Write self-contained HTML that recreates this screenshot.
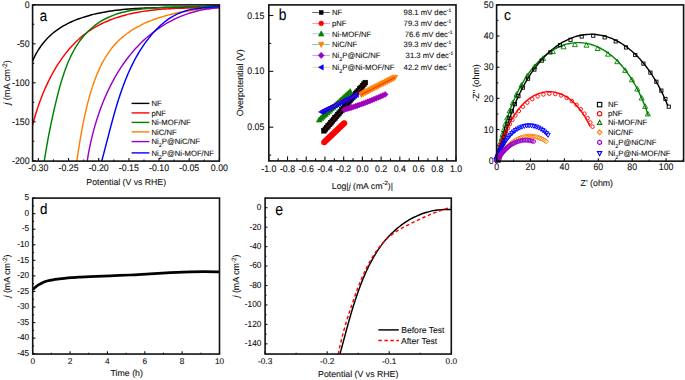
<!DOCTYPE html>
<html><head><meta charset="utf-8"><style>
html,body{margin:0;padding:0;background:#fff;}
body{width:685px;height:380px;overflow:hidden;}
svg{display:block;font-family:"Liberation Sans", sans-serif;text-rendering:geometricPrecision;}
text{fill:#111;stroke:#111;stroke-width:0.1px;paint-order:stroke;}
text.L{stroke-width:0.12px;fill:#000;stroke:#000;}
</style></head><body>
<svg width="685" height="380" viewBox="0 0 685 380">
<rect width="685" height="380" fill="#fff"/>
<defs><clipPath id="clipa"><rect x="32.6" y="4.9" width="186.8" height="156.2"/></clipPath><clipPath id="clipe"><rect x="265.1" y="198.1" width="186.2" height="155.95000000000002"/></clipPath></defs>
<g clip-path="url(#clipa)" fill="none" stroke-width="1.45">
<path d="M30.77,66.32 C30.93,65.87 31.37,64.51 31.69,63.62 C32.01,62.73 32.35,61.85 32.7,60.99 C33.05,60.12 33.42,59.26 33.8,58.41 C34.18,57.56 34.58,56.72 34.99,55.89 C35.41,55.07 35.83,54.25 36.27,53.44 C36.72,52.64 37.17,51.84 37.64,51.06 C38.11,50.27 38.59,49.5 39.09,48.74 C39.59,47.97 40.1,47.22 40.62,46.48 C41.15,45.75 41.68,45.02 42.23,44.3 C42.78,43.59 43.34,42.88 43.92,42.19 C44.49,41.5 45.08,40.82 45.68,40.16 C46.27,39.49 46.89,38.83 47.51,38.19 C48.13,37.55 48.76,36.92 49.41,36.31 C50.05,35.69 50.71,35.09 51.37,34.5 C52.04,33.91 52.71,33.33 53.4,32.77 C54.09,32.21 54.78,31.66 55.49,31.12 C56.2,30.59 56.91,30.07 57.64,29.56 C58.37,29.05 59.1,28.55 59.85,28.07 C60.59,27.59 61.34,27.12 62.1,26.66 C62.86,26.21 63.63,25.76 64.41,25.33 C65.18,24.9 65.97,24.48 66.76,24.07 C67.55,23.66 68.35,23.26 69.15,22.88 C69.95,22.49 70.76,22.11 71.58,21.75 C72.39,21.39 73.22,21.03 74.04,20.69 C74.87,20.34 75.7,20.01 76.54,19.69 C77.37,19.36 78.21,19.05 79.06,18.74 C79.9,18.44 80.75,18.14 81.6,17.85 C82.46,17.57 83.31,17.29 84.17,17.02 C85.03,16.75 85.89,16.49 86.75,16.24 C87.62,15.98 88.48,15.74 89.35,15.5 C90.22,15.26 91.09,15.03 91.96,14.81 C92.83,14.58 93.7,14.37 94.57,14.16 C95.44,13.95 96.32,13.74 97.19,13.55 C98.07,13.35 98.95,13.16 99.82,12.98 C100.7,12.8 101.58,12.62 102.46,12.45 C103.34,12.28 104.22,12.12 105.1,11.96 C105.99,11.8 106.87,11.65 107.75,11.5 C108.64,11.35 109.52,11.21 110.41,11.08 C111.3,10.94 112.18,10.81 113.07,10.69 C113.96,10.56 114.85,10.44 115.74,10.33 C116.63,10.21 117.52,10.1 118.41,10 C119.3,9.89 120.2,9.79 121.09,9.7 C121.98,9.6 122.88,9.51 123.77,9.42 C124.67,9.34 125.56,9.25 126.46,9.18 C127.36,9.1 128.25,9.02 129.15,8.95 C130.05,8.88 130.95,8.81 131.85,8.75 C132.75,8.69 133.64,8.63 134.54,8.57 C135.44,8.51 136.35,8.46 137.25,8.41 C138.15,8.36 139.05,8.31 139.95,8.27 C140.85,8.22 141.76,8.18 142.66,8.14 C143.56,8.1 144.46,8.06 145.37,8.03 C146.27,8 147.17,7.96 148.08,7.93 C148.98,7.9 149.89,7.88 150.79,7.85 C151.7,7.82 152.6,7.8 153.51,7.78 C154.41,7.75 155.32,7.73 156.22,7.71 C157.13,7.69 158.03,7.68 158.94,7.66 C159.84,7.64 160.75,7.63 161.65,7.61 C162.56,7.59 163.46,7.58 164.37,7.57 C165.27,7.55 166.18,7.54 167.09,7.53 C167.99,7.51 168.9,7.5 169.8,7.49 C170.71,7.48 171.61,7.47 172.52,7.46 C173.42,7.44 174.32,7.43 175.23,7.42 C176.13,7.41 177.04,7.39 177.94,7.38 C178.85,7.37 179.75,7.35 180.65,7.34 C181.56,7.32 182.46,7.31 183.36,7.29 C184.26,7.28 185.17,7.26 186.07,7.24 C186.97,7.22 187.87,7.2 188.77,7.18 C189.67,7.16 190.57,7.14 191.47,7.11 C192.37,7.09 193.27,7.06 194.17,7.03 C195.07,7 195.96,6.97 196.86,6.94 C197.76,6.91 198.66,6.87 199.55,6.83 C200.45,6.8 201.34,6.76 202.24,6.71 C203.13,6.67 204.03,6.63 204.92,6.58 C205.81,6.53 206.7,6.48 207.59,6.42 C208.49,6.37 209.38,6.31 210.27,6.25 C211.16,6.19 212.04,6.12 212.93,6.05 C213.82,5.99 214.71,5.91 215.59,5.84 C216.48,5.76 217.36,5.68 218.25,5.6 C219.13,5.51 220.45,5.38 220.89,5.33" stroke="#000"/>
<path d="M31.94,127.66 C32.07,127.16 32.43,125.68 32.69,124.69 C32.95,123.7 33.21,122.71 33.49,121.71 C33.76,120.71 34.04,119.71 34.32,118.71 C34.61,117.71 34.9,116.71 35.2,115.7 C35.5,114.7 35.8,113.69 36.12,112.68 C36.43,111.68 36.75,110.67 37.08,109.66 C37.41,108.65 37.74,107.64 38.09,106.63 C38.43,105.62 38.78,104.61 39.14,103.6 C39.5,102.6 39.86,101.59 40.24,100.58 C40.61,99.58 40.99,98.57 41.38,97.57 C41.77,96.56 42.16,95.56 42.56,94.56 C42.97,93.56 43.38,92.56 43.8,91.56 C44.22,90.57 44.65,89.57 45.08,88.58 C45.52,87.59 45.96,86.61 46.41,85.62 C46.86,84.64 47.32,83.66 47.79,82.68 C48.25,81.71 48.73,80.73 49.21,79.77 C49.7,78.8 50.19,77.84 50.69,76.88 C51.19,75.92 51.7,74.97 52.21,74.02 C52.73,73.08 53.25,72.13 53.79,71.2 C54.32,70.26 54.86,69.33 55.41,68.41 C55.96,67.49 56.52,66.57 57.09,65.66 C57.66,64.76 58.23,63.85 58.82,62.96 C59.4,62.07 60,61.18 60.6,60.3 C61.2,59.42 61.82,58.55 62.44,57.69 C63.06,56.83 63.69,55.97 64.32,55.13 C64.96,54.29 65.61,53.45 66.27,52.63 C66.92,51.8 67.59,50.99 68.26,50.18 C68.94,49.37 69.62,48.58 70.31,47.79 C71.01,47.01 71.71,46.23 72.42,45.47 C73.13,44.71 73.86,43.96 74.59,43.22 C75.32,42.48 76.06,41.75 76.81,41.03 C77.56,40.31 78.32,39.61 79.08,38.92 C79.85,38.23 80.63,37.55 81.42,36.88 C82.21,36.21 83.01,35.56 83.81,34.92 C84.62,34.28 85.44,33.66 86.27,33.05 C87.09,32.43 87.93,31.84 88.78,31.25 C89.63,30.67 90.48,30.1 91.35,29.54 C92.21,28.99 93.09,28.45 93.97,27.92 C94.86,27.39 95.75,26.88 96.65,26.37 C97.55,25.87 98.46,25.38 99.38,24.91 C100.3,24.43 101.22,23.97 102.15,23.52 C103.09,23.06 104.03,22.63 104.97,22.2 C105.92,21.77 106.88,21.36 107.84,20.96 C108.8,20.56 109.77,20.17 110.74,19.79 C111.72,19.41 112.7,19.04 113.68,18.69 C114.67,18.33 115.66,17.99 116.66,17.65 C117.66,17.32 118.66,17 119.67,16.69 C120.68,16.37 121.69,16.07 122.71,15.78 C123.73,15.49 124.76,15.21 125.78,14.94 C126.81,14.67 127.84,14.41 128.88,14.16 C129.91,13.91 130.95,13.67 132,13.44 C133.04,13.21 134.09,12.99 135.14,12.78 C136.19,12.57 137.24,12.37 138.3,12.17 C139.35,11.98 140.41,11.8 141.47,11.62 C142.53,11.45 143.59,11.28 144.66,11.12 C145.72,10.96 146.79,10.81 147.86,10.67 C148.93,10.53 150,10.39 151.07,10.27 C152.14,10.14 153.21,10.02 154.28,9.91 C155.35,9.8 156.43,9.69 157.5,9.59 C158.58,9.49 159.65,9.4 160.73,9.32 C161.8,9.23 162.88,9.15 163.95,9.08 C165.03,9 166.1,8.93 167.18,8.87 C168.26,8.8 169.33,8.74 170.41,8.69 C171.48,8.63 172.56,8.58 173.63,8.53 C174.71,8.48 175.78,8.44 176.85,8.4 C177.93,8.35 179,8.31 180.07,8.28 C181.14,8.24 182.21,8.21 183.28,8.17 C184.35,8.14 185.42,8.11 186.48,8.08 C187.55,8.05 188.61,8.02 189.67,7.99 C190.74,7.96 191.8,7.94 192.86,7.91 C193.91,7.88 194.97,7.85 196.03,7.82 C197.08,7.8 198.13,7.77 199.18,7.74 C200.23,7.71 201.28,7.67 202.32,7.64 C203.37,7.61 204.41,7.57 205.45,7.53 C206.48,7.5 207.52,7.46 208.55,7.41 C209.58,7.37 210.61,7.32 211.64,7.27 C212.66,7.22 213.68,7.17 214.7,7.11 C215.72,7.06 216.73,6.99 217.74,6.93 C218.75,6.86 220.26,6.75 220.76,6.71" stroke="#ff0000"/>
<path d="M43.98,163.01 C44.07,162.41 44.35,160.61 44.54,159.41 C44.72,158.22 44.91,157.03 45.1,155.85 C45.29,154.67 45.49,153.49 45.68,152.32 C45.88,151.15 46.07,149.98 46.27,148.82 C46.47,147.66 46.67,146.5 46.87,145.35 C47.08,144.19 47.28,143.04 47.49,141.9 C47.7,140.75 47.91,139.61 48.12,138.46 C48.33,137.32 48.55,136.18 48.77,135.05 C48.98,133.91 49.21,132.77 49.43,131.64 C49.65,130.51 49.88,129.37 50.11,128.24 C50.33,127.11 50.56,125.98 50.8,124.85 C51.03,123.72 51.27,122.58 51.51,121.45 C51.75,120.32 51.99,119.19 52.24,118.06 C52.49,116.92 52.73,115.79 52.99,114.65 C53.24,113.52 53.5,112.38 53.75,111.24 C54.01,110.1 54.28,108.96 54.54,107.81 C54.81,106.66 55.08,105.52 55.35,104.36 C55.62,103.21 55.9,102.06 56.18,100.9 C56.46,99.74 56.74,98.58 57.03,97.41 C57.32,96.25 57.62,95.08 57.92,93.91 C58.22,92.74 58.52,91.57 58.83,90.4 C59.14,89.23 59.46,88.06 59.78,86.89 C60.11,85.72 60.44,84.55 60.78,83.39 C61.12,82.22 61.47,81.06 61.82,79.89 C62.18,78.73 62.54,77.57 62.92,76.42 C63.29,75.26 63.67,74.11 64.07,72.97 C64.46,71.82 64.86,70.68 65.28,69.55 C65.69,68.41 66.12,67.28 66.56,66.16 C66.99,65.04 67.44,63.93 67.9,62.82 C68.37,61.72 68.84,60.62 69.33,59.53 C69.81,58.44 70.31,57.37 70.83,56.3 C71.34,55.23 71.87,54.17 72.41,53.13 C72.96,52.08 73.52,51.04 74.09,50.02 C74.66,49 75.25,47.99 75.86,46.99 C76.46,46 77.09,45.02 77.73,44.05 C78.36,43.08 79.02,42.13 79.69,41.19 C80.37,40.25 81.06,39.33 81.77,38.43 C82.48,37.52 83.21,36.63 83.96,35.76 C84.71,34.89 85.48,34.04 86.27,33.21 C87.06,32.37 87.86,31.56 88.69,30.76 C89.52,29.97 90.36,29.19 91.23,28.44 C92.09,27.68 92.97,26.95 93.87,26.23 C94.77,25.52 95.69,24.83 96.62,24.16 C97.56,23.49 98.51,22.84 99.47,22.21 C100.44,21.59 101.42,20.98 102.42,20.4 C103.42,19.83 104.43,19.27 105.46,18.74 C106.48,18.21 107.52,17.7 108.58,17.22 C109.63,16.74 110.7,16.28 111.78,15.85 C112.86,15.41 113.96,15.01 115.06,14.62 C116.16,14.23 117.28,13.87 118.41,13.53 C119.53,13.19 120.67,12.87 121.81,12.56 C122.96,12.26 124.11,11.98 125.27,11.71 C126.43,11.45 127.6,11.2 128.77,10.97 C129.94,10.74 131.12,10.53 132.3,10.33 C133.49,10.12 134.68,9.94 135.87,9.77 C137.06,9.59 138.26,9.44 139.45,9.29 C140.65,9.14 141.85,9 143.05,8.88 C144.25,8.75 145.45,8.63 146.65,8.53 C147.85,8.42 149.05,8.32 150.25,8.22 C151.45,8.13 152.65,8.05 153.84,7.97 C155.04,7.88 156.23,7.81 157.42,7.74 C158.62,7.67 159.81,7.61 161,7.55 C162.19,7.5 163.37,7.44 164.56,7.39 C165.75,7.34 166.93,7.3 168.12,7.26 C169.3,7.22 170.48,7.18 171.67,7.14 C172.85,7.11 174.03,7.08 175.21,7.05 C176.39,7.02 177.57,6.99 178.75,6.96 C179.92,6.94 181.1,6.91 182.28,6.89 C183.45,6.87 184.63,6.84 185.8,6.82 C186.98,6.8 188.15,6.78 189.32,6.76 C190.5,6.73 191.67,6.71 192.84,6.69 C194.01,6.66 195.19,6.64 196.36,6.61 C197.53,6.58 198.7,6.55 199.87,6.52 C201.04,6.49 202.21,6.46 203.38,6.42 C204.55,6.38 205.72,6.35 206.89,6.3 C208.06,6.26 209.23,6.21 210.39,6.16 C211.56,6.11 212.73,6.05 213.9,5.99 C215.07,5.93 216.24,5.87 217.41,5.79 C218.58,5.72 220.33,5.6 220.91,5.56" stroke="#008000"/>
<path d="M76.58,162.9 C76.65,162.4 76.87,160.9 77.02,159.9 C77.16,158.9 77.31,157.9 77.46,156.9 C77.61,155.9 77.76,154.91 77.91,153.91 C78.06,152.91 78.21,151.92 78.36,150.92 C78.51,149.93 78.67,148.93 78.82,147.94 C78.98,146.94 79.14,145.95 79.29,144.96 C79.45,143.96 79.61,142.97 79.78,141.98 C79.94,140.99 80.1,140 80.27,139 C80.44,138.01 80.61,137.02 80.78,136.03 C80.95,135.04 81.12,134.05 81.3,133.06 C81.48,132.06 81.66,131.07 81.84,130.08 C82.02,129.09 82.21,128.1 82.4,127.11 C82.59,126.12 82.78,125.12 82.98,124.13 C83.17,123.14 83.37,122.15 83.58,121.15 C83.78,120.16 83.99,119.17 84.2,118.17 C84.41,117.18 84.63,116.18 84.85,115.19 C85.07,114.19 85.29,113.19 85.52,112.2 C85.75,111.2 85.98,110.2 86.22,109.2 C86.46,108.2 86.7,107.2 86.95,106.2 C87.19,105.2 87.45,104.2 87.7,103.19 C87.96,102.19 88.23,101.18 88.49,100.18 C88.76,99.17 89.04,98.16 89.32,97.16 C89.6,96.15 89.88,95.14 90.18,94.14 C90.47,93.13 90.77,92.13 91.08,91.12 C91.38,90.12 91.7,89.11 92.02,88.11 C92.34,87.11 92.66,86.11 93,85.12 C93.33,84.12 93.68,83.13 94.03,82.14 C94.38,81.15 94.74,80.17 95.1,79.19 C95.47,78.21 95.85,77.23 96.23,76.26 C96.62,75.29 97.01,74.32 97.41,73.36 C97.82,72.4 98.23,71.45 98.65,70.5 C99.07,69.55 99.5,68.61 99.94,67.68 C100.38,66.74 100.83,65.82 101.3,64.9 C101.76,63.98 102.23,63.07 102.71,62.17 C103.2,61.27 103.69,60.38 104.2,59.5 C104.7,58.61 105.22,57.74 105.75,56.88 C106.27,56.02 106.81,55.16 107.37,54.32 C107.92,53.48 108.48,52.65 109.06,51.83 C109.63,51.02 110.22,50.21 110.82,49.42 C111.43,48.62 112.04,47.84 112.67,47.08 C113.3,46.31 113.94,45.55 114.59,44.81 C115.25,44.07 115.92,43.35 116.6,42.64 C117.28,41.93 117.98,41.23 118.68,40.55 C119.39,39.86 120.12,39.19 120.85,38.54 C121.58,37.88 122.33,37.24 123.09,36.61 C123.85,35.98 124.62,35.37 125.4,34.77 C126.18,34.17 126.98,33.58 127.78,33 C128.58,32.42 129.4,31.86 130.22,31.31 C131.05,30.76 131.89,30.22 132.73,29.7 C133.58,29.17 134.43,28.66 135.3,28.15 C136.16,27.65 137.03,27.16 137.92,26.68 C138.8,26.21 139.69,25.74 140.59,25.28 C141.49,24.83 142.4,24.39 143.31,23.95 C144.23,23.52 145.15,23.1 146.08,22.69 C147.01,22.28 147.95,21.88 148.89,21.49 C149.83,21.1 150.79,20.72 151.74,20.35 C152.7,19.98 153.66,19.62 154.63,19.27 C155.6,18.92 156.57,18.58 157.55,18.25 C158.53,17.92 159.51,17.61 160.5,17.29 C161.49,16.98 162.48,16.68 163.48,16.39 C164.47,16.1 165.47,15.82 166.48,15.54 C167.48,15.27 168.49,15 169.5,14.74 C170.51,14.49 171.52,14.24 172.53,14 C173.55,13.76 174.57,13.53 175.59,13.3 C176.61,13.08 177.63,12.86 178.65,12.65 C179.67,12.44 180.7,12.24 181.72,12.05 C182.74,11.85 183.77,11.67 184.79,11.49 C185.82,11.31 186.84,11.13 187.87,10.97 C188.89,10.8 189.92,10.64 190.94,10.49 C191.97,10.34 192.99,10.19 194.01,10.05 C195.03,9.91 196.05,9.78 197.07,9.65 C198.09,9.52 199.11,9.4 200.12,9.28 C201.13,9.16 202.15,9.05 203.15,8.95 C204.16,8.84 205.17,8.74 206.17,8.64 C207.17,8.55 208.17,8.46 209.16,8.37 C210.16,8.28 211.15,8.2 212.13,8.13 C213.12,8.05 214.1,7.98 215.08,7.91 C216.05,7.84 217.02,7.77 217.99,7.71 C218.95,7.65 220.39,7.57 220.86,7.54" stroke="#ff8000"/>
<path d="M86.92,162.94 C86.99,162.49 87.19,161.14 87.33,160.24 C87.47,159.34 87.62,158.43 87.77,157.53 C87.92,156.62 88.08,155.71 88.24,154.8 C88.4,153.89 88.56,152.98 88.73,152.07 C88.9,151.16 89.08,150.25 89.26,149.34 C89.43,148.42 89.62,147.51 89.81,146.59 C90,145.68 90.19,144.76 90.39,143.85 C90.59,142.93 90.79,142.01 91,141.1 C91.21,140.18 91.42,139.26 91.64,138.35 C91.86,137.43 92.08,136.51 92.31,135.59 C92.54,134.68 92.77,133.76 93.01,132.84 C93.24,131.93 93.49,131.01 93.74,130.09 C93.98,129.18 94.24,128.26 94.5,127.34 C94.75,126.43 95.02,125.51 95.29,124.6 C95.56,123.69 95.83,122.77 96.11,121.86 C96.39,120.95 96.67,120.04 96.96,119.13 C97.25,118.22 97.55,117.31 97.85,116.4 C98.15,115.49 98.45,114.59 98.76,113.68 C99.07,112.78 99.39,111.88 99.71,110.98 C100.03,110.07 100.36,109.17 100.69,108.28 C101.02,107.38 101.36,106.48 101.7,105.59 C102.05,104.7 102.4,103.81 102.75,102.92 C103.11,102.03 103.47,101.14 103.83,100.26 C104.2,99.37 104.57,98.49 104.94,97.61 C105.32,96.73 105.7,95.86 106.09,94.98 C106.48,94.11 106.87,93.24 107.27,92.37 C107.67,91.5 108.07,90.64 108.49,89.78 C108.9,88.92 109.31,88.06 109.73,87.2 C110.16,86.35 110.59,85.5 111.02,84.65 C111.45,83.8 111.89,82.96 112.34,82.12 C112.78,81.28 113.24,80.44 113.69,79.61 C114.15,78.78 114.61,77.95 115.08,77.13 C115.55,76.3 116.03,75.48 116.51,74.67 C116.99,73.85 117.48,73.04 117.97,72.23 C118.46,71.43 118.96,70.62 119.47,69.83 C119.98,69.03 120.49,68.24 121,67.45 C121.52,66.66 122.05,65.88 122.58,65.1 C123.11,64.32 123.64,63.55 124.19,62.78 C124.73,62.02 125.28,61.25 125.83,60.5 C126.39,59.74 126.95,58.99 127.52,58.25 C128.09,57.5 128.66,56.76 129.24,56.03 C129.82,55.29 130.41,54.57 131,53.84 C131.6,53.12 132.2,52.41 132.8,51.7 C133.41,50.99 134.02,50.28 134.64,49.59 C135.26,48.89 135.89,48.2 136.52,47.52 C137.15,46.83 137.79,46.16 138.43,45.49 C139.08,44.82 139.73,44.15 140.39,43.5 C141.05,42.84 141.72,42.19 142.39,41.55 C143.06,40.91 143.74,40.27 144.42,39.64 C145.11,39.01 145.8,38.39 146.5,37.78 C147.19,37.17 147.9,36.56 148.61,35.97 C149.32,35.37 150.04,34.78 150.76,34.2 C151.48,33.61 152.21,33.04 152.95,32.47 C153.68,31.91 154.42,31.35 155.17,30.8 C155.92,30.25 156.67,29.71 157.43,29.17 C158.19,28.64 158.96,28.12 159.73,27.6 C160.5,27.08 161.28,26.58 162.07,26.08 C162.85,25.58 163.64,25.09 164.44,24.61 C165.23,24.13 166.03,23.65 166.84,23.19 C167.65,22.73 168.46,22.27 169.28,21.83 C170.1,21.38 170.92,20.95 171.75,20.52 C172.58,20.1 173.42,19.68 174.26,19.27 C175.1,18.87 175.95,18.47 176.8,18.08 C177.65,17.69 178.51,17.32 179.37,16.95 C180.24,16.58 181.1,16.22 181.98,15.87 C182.85,15.53 183.73,15.19 184.62,14.86 C185.5,14.54 186.39,14.22 187.29,13.91 C188.18,13.61 189.08,13.31 189.99,13.03 C190.89,12.74 191.8,12.47 192.72,12.2 C193.63,11.94 194.56,11.69 195.48,11.45 C196.41,11.21 197.34,10.98 198.27,10.76 C199.21,10.54 200.15,10.33 201.1,10.13 C202.04,9.94 202.99,9.75 203.95,9.58 C204.9,9.4 205.86,9.24 206.83,9.09 C207.79,8.94 208.76,8.8 209.74,8.68 C210.71,8.55 211.69,8.44 212.67,8.33 C213.66,8.23 214.64,8.14 215.64,8.06 C216.63,7.99 217.63,7.92 218.63,7.87 C219.63,7.81 221.14,7.77 221.65,7.75" stroke="#9900cc"/>
<path d="M101.27,162.72 C101.39,162.3 101.74,161.04 101.97,160.2 C102.2,159.35 102.43,158.51 102.66,157.66 C102.89,156.81 103.12,155.96 103.34,155.1 C103.57,154.25 103.8,153.39 104.02,152.53 C104.25,151.67 104.48,150.81 104.7,149.94 C104.93,149.08 105.15,148.21 105.38,147.34 C105.61,146.47 105.83,145.6 106.06,144.72 C106.28,143.85 106.51,142.97 106.73,142.1 C106.96,141.22 107.19,140.34 107.41,139.46 C107.64,138.58 107.87,137.7 108.1,136.81 C108.32,135.93 108.55,135.04 108.78,134.16 C109.01,133.27 109.24,132.38 109.47,131.49 C109.71,130.6 109.94,129.71 110.17,128.82 C110.41,127.93 110.64,127.04 110.88,126.15 C111.11,125.26 111.35,124.36 111.59,123.47 C111.83,122.58 112.07,121.68 112.31,120.79 C112.56,119.9 112.8,119 113.05,118.11 C113.3,117.21 113.54,116.32 113.79,115.42 C114.05,114.53 114.3,113.63 114.55,112.74 C114.81,111.85 115.07,110.95 115.33,110.06 C115.59,109.16 115.85,108.27 116.11,107.38 C116.38,106.49 116.65,105.6 116.92,104.7 C117.19,103.81 117.46,102.92 117.74,102.04 C118.02,101.15 118.3,100.26 118.58,99.37 C118.86,98.48 119.15,97.6 119.44,96.72 C119.73,95.83 120.02,94.95 120.32,94.07 C120.62,93.19 120.92,92.31 121.22,91.43 C121.53,90.55 121.83,89.68 122.15,88.8 C122.46,87.93 122.78,87.06 123.1,86.19 C123.42,85.32 123.74,84.45 124.07,83.58 C124.4,82.72 124.73,81.85 125.07,80.99 C125.41,80.13 125.75,79.28 126.1,78.42 C126.45,77.57 126.8,76.71 127.16,75.86 C127.51,75.01 127.87,74.17 128.24,73.32 C128.61,72.48 128.98,71.64 129.36,70.8 C129.74,69.96 130.12,69.13 130.51,68.3 C130.9,67.47 131.29,66.64 131.69,65.82 C132.09,65 132.49,64.18 132.9,63.36 C133.32,62.54 133.73,61.73 134.15,60.92 C134.58,60.12 135.01,59.31 135.44,58.51 C135.88,57.71 136.32,56.92 136.77,56.13 C137.21,55.34 137.67,54.55 138.13,53.77 C138.59,52.98 139.06,52.21 139.53,51.43 C140.01,50.66 140.49,49.89 140.97,49.13 C141.46,48.37 141.96,47.61 142.46,46.86 C142.96,46.1 143.47,45.36 143.99,44.61 C144.5,43.87 145.03,43.14 145.56,42.4 C146.09,41.67 146.63,40.95 147.18,40.23 C147.72,39.51 148.28,38.79 148.84,38.08 C149.4,37.37 149.97,36.67 150.55,35.98 C151.13,35.28 151.72,34.59 152.31,33.9 C152.9,33.22 153.51,32.54 154.12,31.87 C154.73,31.2 155.35,30.54 155.98,29.88 C156.61,29.23 157.24,28.58 157.89,27.94 C158.54,27.3 159.19,26.67 159.85,26.06 C160.52,25.44 161.19,24.83 161.87,24.23 C162.56,23.64 163.25,23.05 163.95,22.48 C164.65,21.91 165.36,21.35 166.08,20.81 C166.8,20.27 167.53,19.73 168.27,19.22 C169.01,18.71 169.76,18.21 170.52,17.72 C171.28,17.24 172.05,16.77 172.84,16.32 C173.62,15.87 174.41,15.44 175.21,15.03 C176.01,14.61 176.82,14.22 177.65,13.84 C178.47,13.47 179.3,13.11 180.15,12.78 C180.99,12.45 181.85,12.13 182.71,11.84 C183.58,11.54 184.45,11.27 185.34,11.01 C186.22,10.75 187.11,10.51 188.01,10.29 C188.91,10.06 189.81,9.86 190.72,9.66 C191.63,9.47 192.55,9.29 193.47,9.13 C194.39,8.96 195.31,8.81 196.24,8.67 C197.17,8.53 198.1,8.4 199.03,8.29 C199.96,8.17 200.9,8.06 201.84,7.96 C202.77,7.87 203.71,7.78 204.64,7.7 C205.58,7.61 206.51,7.54 207.44,7.47 C208.38,7.41 209.31,7.35 210.23,7.29 C211.16,7.23 212.09,7.18 213.01,7.13 C213.92,7.08 214.84,7.04 215.75,7 C216.66,6.95 217.56,6.91 218.46,6.87 C219.35,6.83 220.68,6.77 221.13,6.75" stroke="#0000ff"/>
</g>
<rect x="32.6" y="4.9" width="186.8" height="156.2" fill="none" stroke="#111" stroke-width="1.6"/>
<line x1="38.38" y1="161.1" x2="38.38" y2="158.1" stroke="#111" stroke-width="1.1"/>
<line x1="68.55" y1="161.1" x2="68.55" y2="158.1" stroke="#111" stroke-width="1.1"/>
<line x1="98.72" y1="161.1" x2="98.72" y2="158.1" stroke="#111" stroke-width="1.1"/>
<line x1="128.89" y1="161.1" x2="128.89" y2="158.1" stroke="#111" stroke-width="1.1"/>
<line x1="159.06" y1="161.1" x2="159.06" y2="158.1" stroke="#111" stroke-width="1.1"/>
<line x1="189.23" y1="161.1" x2="189.23" y2="158.1" stroke="#111" stroke-width="1.1"/>
<line x1="219.4" y1="161.1" x2="219.4" y2="158.1" stroke="#111" stroke-width="1.1"/>
<line x1="53.47" y1="161.1" x2="53.47" y2="159.4" stroke="#111" stroke-width="1.1"/>
<line x1="83.64" y1="161.1" x2="83.64" y2="159.4" stroke="#111" stroke-width="1.1"/>
<line x1="113.81" y1="161.1" x2="113.81" y2="159.4" stroke="#111" stroke-width="1.1"/>
<line x1="143.98" y1="161.1" x2="143.98" y2="159.4" stroke="#111" stroke-width="1.1"/>
<line x1="174.15" y1="161.1" x2="174.15" y2="159.4" stroke="#111" stroke-width="1.1"/>
<line x1="204.31" y1="161.1" x2="204.31" y2="159.4" stroke="#111" stroke-width="1.1"/>
<line x1="32.6" y1="160.8" x2="35.6" y2="160.8" stroke="#111" stroke-width="1.1"/>
<line x1="32.6" y1="121.8" x2="35.6" y2="121.8" stroke="#111" stroke-width="1.1"/>
<line x1="32.6" y1="82.8" x2="35.6" y2="82.8" stroke="#111" stroke-width="1.1"/>
<line x1="32.6" y1="43.8" x2="35.6" y2="43.8" stroke="#111" stroke-width="1.1"/>
<line x1="32.6" y1="4.8" x2="35.6" y2="4.8" stroke="#111" stroke-width="1.1"/>
<line x1="32.6" y1="141.3" x2="34.3" y2="141.3" stroke="#111" stroke-width="1.1"/>
<line x1="32.6" y1="102.3" x2="34.3" y2="102.3" stroke="#111" stroke-width="1.1"/>
<line x1="32.6" y1="63.3" x2="34.3" y2="63.3" stroke="#111" stroke-width="1.1"/>
<line x1="32.6" y1="24.3" x2="34.3" y2="24.3" stroke="#111" stroke-width="1.1"/>
<text transform="translate(38.38,170.9) scale(1,1.09)" font-size="8.8" text-anchor="middle">-0.30</text>
<text transform="translate(68.55,170.9) scale(1,1.09)" font-size="8.8" text-anchor="middle">-0.25</text>
<text transform="translate(98.72,170.9) scale(1,1.09)" font-size="8.8" text-anchor="middle">-0.20</text>
<text transform="translate(128.89,170.9) scale(1,1.09)" font-size="8.8" text-anchor="middle">-0.15</text>
<text transform="translate(159.06,170.9) scale(1,1.09)" font-size="8.8" text-anchor="middle">-0.10</text>
<text transform="translate(189.23,170.9) scale(1,1.09)" font-size="8.8" text-anchor="middle">-0.05</text>
<text transform="translate(219.4,170.9) scale(1,1.09)" font-size="8.8" text-anchor="middle">0.00</text>
<text transform="translate(29.6,163.9) scale(1,1.09)" font-size="8.8" text-anchor="end">-200</text>
<text transform="translate(29.6,124.9) scale(1,1.09)" font-size="8.8" text-anchor="end">-150</text>
<text transform="translate(29.6,85.9) scale(1,1.09)" font-size="8.8" text-anchor="end">-100</text>
<text transform="translate(29.6,46.9) scale(1,1.09)" font-size="8.8" text-anchor="end">-50</text>
<text transform="translate(29.6,7.9) scale(1,1.09)" font-size="8.8" text-anchor="end">0</text>
<text transform="translate(126.2,185)" font-size="8.7" text-anchor="middle">Potential (V vs RHE)</text>
<text transform="translate(10.4,82.5) rotate(-90)" font-size="9.2" text-anchor="middle"><tspan font-style="italic">j</tspan> (mA cm<tspan dy="-3.2" font-size="6.6">-2</tspan><tspan dy="3.2">)</tspan></text>
<text transform="translate(39.7,20.5) scale(0.88,1.04)" font-size="15" text-anchor="start" class="L">a</text>
<line x1="131.6" y1="103.4" x2="149.4" y2="103.4" stroke="#000" stroke-width="1.4"/>
<text transform="translate(151.5,106)" font-size="7.7" text-anchor="start">NF</text>
<line x1="131.6" y1="112.9" x2="149.4" y2="112.9" stroke="#ff0000" stroke-width="1.4"/>
<text transform="translate(151.5,115.5)" font-size="7.7" text-anchor="start">pNF</text>
<line x1="131.6" y1="122.4" x2="149.4" y2="122.4" stroke="#008000" stroke-width="1.4"/>
<text transform="translate(151.5,125)" font-size="7.7" text-anchor="start">Ni-MOF/NF</text>
<line x1="131.6" y1="131.9" x2="149.4" y2="131.9" stroke="#ff8000" stroke-width="1.4"/>
<text transform="translate(151.5,134.5)" font-size="7.7" text-anchor="start">NiC/NF</text>
<line x1="131.6" y1="141.6" x2="149.4" y2="141.6" stroke="#9900cc" stroke-width="1.4"/>
<text transform="translate(151.5,144.2)" font-size="7.7" text-anchor="start">Ni<tspan dy="3" font-size="5.4">2</tspan><tspan dy="-3">P@NiC/NF</tspan></text>
<line x1="131.6" y1="152.9" x2="149.4" y2="152.9" stroke="#0000ff" stroke-width="1.4"/>
<text transform="translate(151.5,155.5)" font-size="7.7" text-anchor="start">Ni<tspan dy="3" font-size="5.4">2</tspan><tspan dy="-3">P@Ni-MOF/NF</tspan></text>
<g>
<rect x="321.65" y="128.45" width="4.7" height="4.7" fill="#000" stroke="#000" stroke-width="0.6"/><rect x="323.03" y="126.84" width="4.7" height="4.7" fill="#000" stroke="#000" stroke-width="0.6"/><rect x="324.4" y="125.24" width="4.7" height="4.7" fill="#000" stroke="#000" stroke-width="0.6"/><rect x="325.78" y="123.63" width="4.7" height="4.7" fill="#000" stroke="#000" stroke-width="0.6"/><rect x="327.16" y="122.02" width="4.7" height="4.7" fill="#000" stroke="#000" stroke-width="0.6"/><rect x="328.53" y="120.42" width="4.7" height="4.7" fill="#000" stroke="#000" stroke-width="0.6"/><rect x="329.91" y="118.81" width="4.7" height="4.7" fill="#000" stroke="#000" stroke-width="0.6"/><rect x="331.29" y="117.2" width="4.7" height="4.7" fill="#000" stroke="#000" stroke-width="0.6"/><rect x="332.66" y="115.6" width="4.7" height="4.7" fill="#000" stroke="#000" stroke-width="0.6"/><rect x="334.04" y="113.99" width="4.7" height="4.7" fill="#000" stroke="#000" stroke-width="0.6"/><rect x="335.42" y="112.38" width="4.7" height="4.7" fill="#000" stroke="#000" stroke-width="0.6"/><rect x="336.79" y="110.78" width="4.7" height="4.7" fill="#000" stroke="#000" stroke-width="0.6"/><rect x="338.17" y="109.17" width="4.7" height="4.7" fill="#000" stroke="#000" stroke-width="0.6"/><rect x="339.55" y="107.56" width="4.7" height="4.7" fill="#000" stroke="#000" stroke-width="0.6"/><rect x="340.92" y="105.96" width="4.7" height="4.7" fill="#000" stroke="#000" stroke-width="0.6"/><rect x="342.3" y="104.35" width="4.7" height="4.7" fill="#000" stroke="#000" stroke-width="0.6"/><rect x="343.68" y="102.74" width="4.7" height="4.7" fill="#000" stroke="#000" stroke-width="0.6"/><rect x="345.05" y="101.14" width="4.7" height="4.7" fill="#000" stroke="#000" stroke-width="0.6"/><rect x="346.43" y="99.53" width="4.7" height="4.7" fill="#000" stroke="#000" stroke-width="0.6"/><rect x="347.81" y="97.92" width="4.7" height="4.7" fill="#000" stroke="#000" stroke-width="0.6"/><rect x="349.18" y="96.32" width="4.7" height="4.7" fill="#000" stroke="#000" stroke-width="0.6"/><rect x="350.56" y="94.71" width="4.7" height="4.7" fill="#000" stroke="#000" stroke-width="0.6"/><rect x="351.94" y="93.1" width="4.7" height="4.7" fill="#000" stroke="#000" stroke-width="0.6"/><rect x="353.31" y="91.5" width="4.7" height="4.7" fill="#000" stroke="#000" stroke-width="0.6"/><rect x="354.69" y="89.89" width="4.7" height="4.7" fill="#000" stroke="#000" stroke-width="0.6"/><rect x="356.07" y="88.28" width="4.7" height="4.7" fill="#000" stroke="#000" stroke-width="0.6"/><rect x="357.44" y="86.68" width="4.7" height="4.7" fill="#000" stroke="#000" stroke-width="0.6"/><rect x="358.82" y="85.07" width="4.7" height="4.7" fill="#000" stroke="#000" stroke-width="0.6"/><rect x="360.2" y="83.46" width="4.7" height="4.7" fill="#000" stroke="#000" stroke-width="0.6"/><rect x="361.57" y="81.86" width="4.7" height="4.7" fill="#000" stroke="#000" stroke-width="0.6"/><rect x="362.95" y="80.25" width="4.7" height="4.7" fill="#000" stroke="#000" stroke-width="0.6"/>
<circle cx="324.2" cy="142.2" r="2.8" fill="#ff0000" stroke="#ff0000" stroke-width="0.6"/><circle cx="325.63" cy="140.84" r="2.8" fill="#ff0000" stroke="#ff0000" stroke-width="0.6"/><circle cx="327.06" cy="139.49" r="2.8" fill="#ff0000" stroke="#ff0000" stroke-width="0.6"/><circle cx="328.49" cy="138.13" r="2.8" fill="#ff0000" stroke="#ff0000" stroke-width="0.6"/><circle cx="329.91" cy="136.77" r="2.8" fill="#ff0000" stroke="#ff0000" stroke-width="0.6"/><circle cx="331.34" cy="135.41" r="2.8" fill="#ff0000" stroke="#ff0000" stroke-width="0.6"/><circle cx="332.77" cy="134.06" r="2.8" fill="#ff0000" stroke="#ff0000" stroke-width="0.6"/><circle cx="334.2" cy="132.7" r="2.8" fill="#ff0000" stroke="#ff0000" stroke-width="0.6"/><circle cx="335.63" cy="131.34" r="2.8" fill="#ff0000" stroke="#ff0000" stroke-width="0.6"/><circle cx="337.06" cy="129.99" r="2.8" fill="#ff0000" stroke="#ff0000" stroke-width="0.6"/><circle cx="338.49" cy="128.63" r="2.8" fill="#ff0000" stroke="#ff0000" stroke-width="0.6"/><circle cx="339.91" cy="127.27" r="2.8" fill="#ff0000" stroke="#ff0000" stroke-width="0.6"/><circle cx="341.34" cy="125.91" r="2.8" fill="#ff0000" stroke="#ff0000" stroke-width="0.6"/><circle cx="342.77" cy="124.56" r="2.8" fill="#ff0000" stroke="#ff0000" stroke-width="0.6"/><circle cx="344.2" cy="123.2" r="2.8" fill="#ff0000" stroke="#ff0000" stroke-width="0.6"/>
<path d="M319.2,116.86L322,122.04L316.4,122.04Z" fill="#008000" stroke="#008000" stroke-width="0.6"/><path d="M320.75,115.44L323.55,120.62L317.95,120.62Z" fill="#008000" stroke="#008000" stroke-width="0.6"/><path d="M322.3,114.03L325.1,119.21L319.5,119.21Z" fill="#008000" stroke="#008000" stroke-width="0.6"/><path d="M323.85,112.61L326.65,117.79L321.05,117.79Z" fill="#008000" stroke="#008000" stroke-width="0.6"/><path d="M325.4,111.2L328.2,116.38L322.6,116.38Z" fill="#008000" stroke="#008000" stroke-width="0.6"/><path d="M326.95,109.78L329.75,114.96L324.15,114.96Z" fill="#008000" stroke="#008000" stroke-width="0.6"/><path d="M328.5,108.37L331.3,113.55L325.7,113.55Z" fill="#008000" stroke="#008000" stroke-width="0.6"/><path d="M330.05,106.95L332.85,112.13L327.25,112.13Z" fill="#008000" stroke="#008000" stroke-width="0.6"/><path d="M331.6,105.54L334.4,110.72L328.8,110.72Z" fill="#008000" stroke="#008000" stroke-width="0.6"/><path d="M333.15,104.12L335.95,109.3L330.35,109.3Z" fill="#008000" stroke="#008000" stroke-width="0.6"/><path d="M334.7,102.71L337.5,107.89L331.9,107.89Z" fill="#008000" stroke="#008000" stroke-width="0.6"/><path d="M336.25,101.3L339.05,106.47L333.45,106.47Z" fill="#008000" stroke="#008000" stroke-width="0.6"/><path d="M337.8,99.88L340.6,105.06L335,105.06Z" fill="#008000" stroke="#008000" stroke-width="0.6"/><path d="M339.35,98.47L342.15,103.64L336.55,103.64Z" fill="#008000" stroke="#008000" stroke-width="0.6"/><path d="M340.9,97.05L343.7,102.23L338.1,102.23Z" fill="#008000" stroke="#008000" stroke-width="0.6"/><path d="M342.45,95.64L345.25,100.81L339.65,100.81Z" fill="#008000" stroke="#008000" stroke-width="0.6"/><path d="M344,94.22L346.8,99.4L341.2,99.4Z" fill="#008000" stroke="#008000" stroke-width="0.6"/><path d="M345.55,92.81L348.35,97.98L342.75,97.98Z" fill="#008000" stroke="#008000" stroke-width="0.6"/><path d="M347.1,91.39L349.9,96.57L344.3,96.57Z" fill="#008000" stroke="#008000" stroke-width="0.6"/><path d="M348.65,89.98L351.45,95.16L345.85,95.16Z" fill="#008000" stroke="#008000" stroke-width="0.6"/><path d="M350.2,88.56L353,93.74L347.4,93.74Z" fill="#008000" stroke="#008000" stroke-width="0.6"/>
<path d="M361.4,97.75L364.4,92.2L358.4,92.2Z" fill="#ff8000" stroke="#ff8000" stroke-width="0.6"/><path d="M363.25,96.81L366.25,91.26L360.25,91.26Z" fill="#ff8000" stroke="#ff8000" stroke-width="0.6"/><path d="M365.1,95.86L368.1,90.31L362.1,90.31Z" fill="#ff8000" stroke="#ff8000" stroke-width="0.6"/><path d="M366.95,94.92L369.95,89.37L363.95,89.37Z" fill="#ff8000" stroke="#ff8000" stroke-width="0.6"/><path d="M368.8,93.97L371.8,88.42L365.8,88.42Z" fill="#ff8000" stroke="#ff8000" stroke-width="0.6"/><path d="M370.65,93.03L373.65,87.48L367.65,87.48Z" fill="#ff8000" stroke="#ff8000" stroke-width="0.6"/><path d="M372.5,92.08L375.5,86.53L369.5,86.53Z" fill="#ff8000" stroke="#ff8000" stroke-width="0.6"/><path d="M374.35,91.14L377.35,85.59L371.35,85.59Z" fill="#ff8000" stroke="#ff8000" stroke-width="0.6"/><path d="M376.2,90.19L379.2,84.64L373.2,84.64Z" fill="#ff8000" stroke="#ff8000" stroke-width="0.6"/><path d="M378.05,89.25L381.05,83.7L375.05,83.7Z" fill="#ff8000" stroke="#ff8000" stroke-width="0.6"/><path d="M379.9,88.31L382.9,82.76L376.9,82.76Z" fill="#ff8000" stroke="#ff8000" stroke-width="0.6"/><path d="M381.75,87.36L384.75,81.81L378.75,81.81Z" fill="#ff8000" stroke="#ff8000" stroke-width="0.6"/><path d="M383.6,86.42L386.6,80.87L380.6,80.87Z" fill="#ff8000" stroke="#ff8000" stroke-width="0.6"/><path d="M385.45,85.47L388.45,79.92L382.45,79.92Z" fill="#ff8000" stroke="#ff8000" stroke-width="0.6"/><path d="M387.3,84.53L390.3,78.98L384.3,78.98Z" fill="#ff8000" stroke="#ff8000" stroke-width="0.6"/><path d="M389.15,83.58L392.15,78.03L386.15,78.03Z" fill="#ff8000" stroke="#ff8000" stroke-width="0.6"/><path d="M391,82.64L394,77.09L388,77.09Z" fill="#ff8000" stroke="#ff8000" stroke-width="0.6"/><path d="M392.85,81.69L395.85,76.14L389.85,76.14Z" fill="#ff8000" stroke="#ff8000" stroke-width="0.6"/><path d="M394.7,80.75L397.7,75.2L391.7,75.2Z" fill="#ff8000" stroke="#ff8000" stroke-width="0.6"/>
<path d="M344.3,106.63L347.13,109.6L344.3,112.57L341.47,109.6Z" fill="#9900cc" stroke="#9900cc" stroke-width="0.6"/><path d="M346.11,106.14L348.94,109.11L346.11,112.08L343.27,109.11Z" fill="#9900cc" stroke="#9900cc" stroke-width="0.6"/><path d="M347.94,105.61L350.78,108.58L347.94,111.55L345.11,108.58Z" fill="#9900cc" stroke="#9900cc" stroke-width="0.6"/><path d="M349.8,105.06L352.63,108.03L349.8,111L346.96,108.03Z" fill="#9900cc" stroke="#9900cc" stroke-width="0.6"/><path d="M351.68,104.49L354.52,107.46L351.68,110.43L348.85,107.46Z" fill="#9900cc" stroke="#9900cc" stroke-width="0.6"/><path d="M353.59,103.88L356.42,106.85L353.59,109.82L350.75,106.85Z" fill="#9900cc" stroke="#9900cc" stroke-width="0.6"/><path d="M355.52,103.25L358.35,106.22L355.52,109.19L352.69,106.22Z" fill="#9900cc" stroke="#9900cc" stroke-width="0.6"/><path d="M357.48,102.58L360.31,105.55L357.48,108.52L354.64,105.55Z" fill="#9900cc" stroke="#9900cc" stroke-width="0.6"/><path d="M359.46,101.89L362.29,104.86L359.46,107.83L356.62,104.86Z" fill="#9900cc" stroke="#9900cc" stroke-width="0.6"/><path d="M361.47,101.18L364.3,104.15L361.47,107.12L358.63,104.15Z" fill="#9900cc" stroke="#9900cc" stroke-width="0.6"/><path d="M363.5,100.43L366.33,103.4L363.5,106.37L360.67,103.4Z" fill="#9900cc" stroke="#9900cc" stroke-width="0.6"/><path d="M365.56,99.66L368.39,102.63L365.56,105.6L362.72,102.63Z" fill="#9900cc" stroke="#9900cc" stroke-width="0.6"/><path d="M367.64,98.85L370.47,101.82L367.64,104.79L364.81,101.82Z" fill="#9900cc" stroke="#9900cc" stroke-width="0.6"/><path d="M369.75,98.02L372.58,100.99L369.75,103.96L366.91,100.99Z" fill="#9900cc" stroke="#9900cc" stroke-width="0.6"/><path d="M371.88,97.17L374.71,100.14L371.88,103.11L369.05,100.14Z" fill="#9900cc" stroke="#9900cc" stroke-width="0.6"/><path d="M374.04,96.28L376.87,99.25L374.04,102.22L371.2,99.25Z" fill="#9900cc" stroke="#9900cc" stroke-width="0.6"/><path d="M376.22,95.37L379.06,98.34L376.22,101.31L373.39,98.34Z" fill="#9900cc" stroke="#9900cc" stroke-width="0.6"/><path d="M378.43,94.42L381.26,97.39L378.43,100.36L375.59,97.39Z" fill="#9900cc" stroke="#9900cc" stroke-width="0.6"/><path d="M380.66,93.45L383.49,96.42L380.66,99.39L377.82,96.42Z" fill="#9900cc" stroke="#9900cc" stroke-width="0.6"/><path d="M382.92,92.46L385.75,95.43L382.92,98.4L380.08,95.43Z" fill="#9900cc" stroke="#9900cc" stroke-width="0.6"/><path d="M385.2,91.43L388.03,94.4L385.2,97.37L382.37,94.4Z" fill="#9900cc" stroke="#9900cc" stroke-width="0.6"/>
<path d="M318.56,111.9L323.56,109.2L323.56,114.6Z" fill="#0000ff" stroke="#0000ff" stroke-width="0.6"/><path d="M320.5,110.95L325.49,108.25L325.49,113.65Z" fill="#0000ff" stroke="#0000ff" stroke-width="0.6"/><path d="M322.43,110L327.43,107.3L327.43,112.7Z" fill="#0000ff" stroke="#0000ff" stroke-width="0.6"/><path d="M324.37,109.05L329.36,106.35L329.36,111.75Z" fill="#0000ff" stroke="#0000ff" stroke-width="0.6"/><path d="M326.3,108.1L331.29,105.4L331.29,110.8Z" fill="#0000ff" stroke="#0000ff" stroke-width="0.6"/><path d="M328.23,107.15L333.23,104.45L333.23,109.85Z" fill="#0000ff" stroke="#0000ff" stroke-width="0.6"/><path d="M330.17,106.2L335.16,103.5L335.16,108.9Z" fill="#0000ff" stroke="#0000ff" stroke-width="0.6"/><path d="M332.1,105.25L337.09,102.55L337.09,107.95Z" fill="#0000ff" stroke="#0000ff" stroke-width="0.6"/><path d="M334.03,104.3L339.03,101.6L339.03,107Z" fill="#0000ff" stroke="#0000ff" stroke-width="0.6"/><path d="M335.96,103.35L340.96,100.65L340.96,106.05Z" fill="#0000ff" stroke="#0000ff" stroke-width="0.6"/><path d="M337.9,102.4L342.89,99.7L342.89,105.1Z" fill="#0000ff" stroke="#0000ff" stroke-width="0.6"/><path d="M339.83,101.45L344.83,98.75L344.83,104.15Z" fill="#0000ff" stroke="#0000ff" stroke-width="0.6"/><path d="M341.76,100.5L346.76,97.8L346.76,103.2Z" fill="#0000ff" stroke="#0000ff" stroke-width="0.6"/><path d="M343.7,99.55L348.69,96.85L348.69,102.25Z" fill="#0000ff" stroke="#0000ff" stroke-width="0.6"/><path d="M345.63,98.6L350.63,95.9L350.63,101.3Z" fill="#0000ff" stroke="#0000ff" stroke-width="0.6"/><path d="M347.56,97.65L352.56,94.95L352.56,100.35Z" fill="#0000ff" stroke="#0000ff" stroke-width="0.6"/><path d="M349.5,96.7L354.49,94L354.49,99.4Z" fill="#0000ff" stroke="#0000ff" stroke-width="0.6"/><path d="M351.43,95.75L356.43,93.05L356.43,98.45Z" fill="#0000ff" stroke="#0000ff" stroke-width="0.6"/><path d="M353.37,94.8L358.36,92.1L358.36,97.5Z" fill="#0000ff" stroke="#0000ff" stroke-width="0.6"/>
<line x1="324.5" y1="130.5" x2="365.5" y2="82.5" stroke="#d00000" stroke-width="0.6"/>
<line x1="320.5" y1="112.2" x2="357.5" y2="94.2" stroke="#c00060" stroke-width="0.6"/>
<line x1="319.5" y1="119.5" x2="350" y2="92" stroke="#a04000" stroke-width="0.6"/>
<line x1="344.5" y1="109.4" x2="385" y2="94.6" stroke="#d00040" stroke-width="0.6"/>
<line x1="361" y1="94.8" x2="395" y2="77.5" stroke="#e00000" stroke-width="0.6"/>
<line x1="324.5" y1="142" x2="344" y2="123.5" stroke="#e00000" stroke-width="0.6"/>
</g>
<rect x="268.8" y="4.9" width="187.2" height="156" fill="none" stroke="#111" stroke-width="1.6"/>
<line x1="268.8" y1="160.9" x2="268.8" y2="156.4" stroke="#111" stroke-width="1.1"/>
<line x1="287.52" y1="160.9" x2="287.52" y2="156.4" stroke="#111" stroke-width="1.1"/>
<line x1="306.24" y1="160.9" x2="306.24" y2="156.4" stroke="#111" stroke-width="1.1"/>
<line x1="324.96" y1="160.9" x2="324.96" y2="156.4" stroke="#111" stroke-width="1.1"/>
<line x1="343.68" y1="160.9" x2="343.68" y2="156.4" stroke="#111" stroke-width="1.1"/>
<line x1="362.4" y1="160.9" x2="362.4" y2="156.4" stroke="#111" stroke-width="1.1"/>
<line x1="381.12" y1="160.9" x2="381.12" y2="156.4" stroke="#111" stroke-width="1.1"/>
<line x1="399.84" y1="160.9" x2="399.84" y2="156.4" stroke="#111" stroke-width="1.1"/>
<line x1="418.56" y1="160.9" x2="418.56" y2="156.4" stroke="#111" stroke-width="1.1"/>
<line x1="437.28" y1="160.9" x2="437.28" y2="156.4" stroke="#111" stroke-width="1.1"/>
<line x1="456" y1="160.9" x2="456" y2="156.4" stroke="#111" stroke-width="1.1"/>
<line x1="278.16" y1="160.9" x2="278.16" y2="158.3" stroke="#111" stroke-width="1.1"/>
<line x1="296.88" y1="160.9" x2="296.88" y2="158.3" stroke="#111" stroke-width="1.1"/>
<line x1="315.6" y1="160.9" x2="315.6" y2="158.3" stroke="#111" stroke-width="1.1"/>
<line x1="334.32" y1="160.9" x2="334.32" y2="158.3" stroke="#111" stroke-width="1.1"/>
<line x1="353.04" y1="160.9" x2="353.04" y2="158.3" stroke="#111" stroke-width="1.1"/>
<line x1="371.76" y1="160.9" x2="371.76" y2="158.3" stroke="#111" stroke-width="1.1"/>
<line x1="390.48" y1="160.9" x2="390.48" y2="158.3" stroke="#111" stroke-width="1.1"/>
<line x1="409.2" y1="160.9" x2="409.2" y2="158.3" stroke="#111" stroke-width="1.1"/>
<line x1="427.92" y1="160.9" x2="427.92" y2="158.3" stroke="#111" stroke-width="1.1"/>
<line x1="446.64" y1="160.9" x2="446.64" y2="158.3" stroke="#111" stroke-width="1.1"/>
<line x1="268.8" y1="127.2" x2="273.3" y2="127.2" stroke="#111" stroke-width="1.1"/>
<line x1="268.8" y1="71.35" x2="273.3" y2="71.35" stroke="#111" stroke-width="1.1"/>
<line x1="268.8" y1="15.5" x2="273.3" y2="15.5" stroke="#111" stroke-width="1.1"/>
<line x1="268.8" y1="155.12" x2="271.2" y2="155.12" stroke="#111" stroke-width="1.1"/>
<line x1="268.8" y1="99.27" x2="271.2" y2="99.27" stroke="#111" stroke-width="1.1"/>
<line x1="268.8" y1="43.42" x2="271.2" y2="43.42" stroke="#111" stroke-width="1.1"/>
<text transform="translate(268.8,171.9) scale(1,1.09)" font-size="8.8" text-anchor="middle">-1.0</text>
<text transform="translate(287.52,171.9) scale(1,1.09)" font-size="8.8" text-anchor="middle">-0.8</text>
<text transform="translate(306.24,171.9) scale(1,1.09)" font-size="8.8" text-anchor="middle">-0.6</text>
<text transform="translate(324.96,171.9) scale(1,1.09)" font-size="8.8" text-anchor="middle">-0.4</text>
<text transform="translate(343.68,171.9) scale(1,1.09)" font-size="8.8" text-anchor="middle">-0.2</text>
<text transform="translate(362.4,171.9) scale(1,1.09)" font-size="8.8" text-anchor="middle">0.0</text>
<text transform="translate(381.12,171.9) scale(1,1.09)" font-size="8.8" text-anchor="middle">0.2</text>
<text transform="translate(399.84,171.9) scale(1,1.09)" font-size="8.8" text-anchor="middle">0.4</text>
<text transform="translate(418.56,171.9) scale(1,1.09)" font-size="8.8" text-anchor="middle">0.6</text>
<text transform="translate(437.28,171.9) scale(1,1.09)" font-size="8.8" text-anchor="middle">0.8</text>
<text transform="translate(456,171.9) scale(1,1.09)" font-size="8.8" text-anchor="middle">1.0</text>
<text transform="translate(264.4,130.3) scale(1,1.09)" font-size="8.8" text-anchor="end">0.05</text>
<text transform="translate(264.4,74.45) scale(1,1.09)" font-size="8.8" text-anchor="end">0.10</text>
<text transform="translate(264.4,18.6) scale(1,1.09)" font-size="8.8" text-anchor="end">0.15</text>
<text transform="translate(362.4,188.6)" font-size="8.7" text-anchor="middle">Log|<tspan font-style="italic">j</tspan> (mA cm<tspan dy="-3.2" font-size="6">-2</tspan><tspan dy="3.2">)|</tspan></text>
<text transform="translate(243.2,82.8) rotate(-90)" font-size="8.9" text-anchor="middle">Overpotential (V)</text>
<text transform="translate(278.7,19.9) scale(0.92,1.07)" font-size="15" text-anchor="start" class="L">b</text>
<line x1="312.3" y1="12.5" x2="329.8" y2="12.5" stroke="#555" stroke-width="0.9"/>
<rect x="319.3" y="10.6" width="3.8" height="3.8" fill="#000" stroke="#000" stroke-width="0.6"/>
<text transform="translate(332,15.2)" font-size="7.7" text-anchor="start">NF</text>
<text transform="translate(403.6,15.2)" font-size="7.7" text-anchor="start">98.1 mV dec<tspan dy="-3" font-size="5">-1</tspan></text>
<line x1="312.3" y1="23.4" x2="329.8" y2="23.4" stroke="#ff8a8a" stroke-width="0.9"/>
<circle cx="321.2" cy="23.4" r="2.4" fill="#ff0000" stroke="#ff0000" stroke-width="0.6"/>
<text transform="translate(332,26.1)" font-size="7.7" text-anchor="start">pNF</text>
<text transform="translate(403.6,26.1)" font-size="7.7" text-anchor="start">79.3 mV dec<tspan dy="-3" font-size="5">-1</tspan></text>
<line x1="312.3" y1="33.8" x2="329.8" y2="33.8" stroke="#a8c4ec" stroke-width="0.9"/>
<path d="M321.2,30.86L324,36.04L318.4,36.04Z" fill="#008000" stroke="#008000" stroke-width="0.6"/>
<text transform="translate(332,36.5)" font-size="7.7" text-anchor="start">Ni-MOF/NF</text>
<text transform="translate(404.8,36.5)" font-size="7.7" text-anchor="start">76.6 mV dec<tspan dy="-3" font-size="5">-1</tspan></text>
<line x1="312.3" y1="44.5" x2="329.8" y2="44.5" stroke="#70c8a0" stroke-width="0.9"/>
<path d="M321.2,47.44L324,42.26L318.4,42.26Z" fill="#ff8000" stroke="#ff8000" stroke-width="0.6"/>
<text transform="translate(332,47.2)" font-size="7.7" text-anchor="start">NiC/NF</text>
<text transform="translate(403.6,47.2)" font-size="7.7" text-anchor="start">39.3 mV dec<tspan dy="-3" font-size="5">-1</tspan></text>
<line x1="312.3" y1="55.4" x2="329.8" y2="55.4" stroke="#c890e8" stroke-width="0.9"/>
<path d="M321.2,52.32L324.14,55.4L321.2,58.48L318.26,55.4Z" fill="#9900cc" stroke="#9900cc" stroke-width="0.6"/>
<text transform="translate(332,58.1)" font-size="7.7" text-anchor="start">Ni<tspan dy="3" font-size="5.4">2</tspan><tspan dy="-3">P@NiC/NF</tspan></text>
<text transform="translate(405.6,58.1)" font-size="7.7" text-anchor="start">31.3 mV dec<tspan dy="-3" font-size="5">-1</tspan></text>
<line x1="312.3" y1="67.3" x2="329.8" y2="67.3" stroke="#e6cc96" stroke-width="0.9"/>
<path d="M318.47,67.3L323.28,64.7L323.28,69.9Z" fill="#0000ff" stroke="#0000ff" stroke-width="0.6"/>
<text transform="translate(332,70)" font-size="7.7" text-anchor="start">Ni<tspan dy="3" font-size="5.4">2</tspan><tspan dy="-3">P@Ni-MOF/NF</tspan></text>
<text transform="translate(403.6,70)" font-size="7.7" text-anchor="start">42.2 mV dec<tspan dy="-3" font-size="5">-1</tspan></text>
<path d="M498.36,160.7 C498.36,160.7 498.36,160.7 498.36,160.69 C498.36,160.69 498.36,160.69 498.36,160.69 C498.36,160.69 498.36,160.69 498.36,160.69 C498.36,160.69 498.36,160.68 498.36,160.68 C498.36,160.68 498.36,160.68 498.36,160.68 C498.36,160.68 498.36,160.68 498.36,160.68 C498.36,160.67 498.36,160.67 498.36,160.67 C498.36,160.67 498.36,160.67 498.36,160.67 C498.36,160.67 498.36,160.66 498.36,160.66 C498.36,160.66 498.36,160.66 498.36,160.66 C498.36,160.66 498.36,160.65 498.36,160.65 C498.36,160.65 498.36,160.65 498.36,160.65 C498.36,160.65 498.36,160.64 498.36,160.64 C498.36,160.64 498.37,160.64 498.37,160.64 C498.37,160.64 498.37,160.63 498.37,160.63 C498.37,160.63 498.37,160.63 498.37,160.63 C498.37,160.62 498.37,160.62 498.37,160.62 C498.37,160.62 498.37,160.62 498.37,160.61 C498.37,160.61 498.37,160.61 498.37,160.61 C498.37,160.61 498.37,160.6 498.37,160.6 C498.37,160.6 498.37,160.6 498.37,160.59 C498.37,160.59 498.37,160.59 498.37,160.59 C498.37,160.59 498.37,160.58 498.37,160.58 C498.37,160.58 498.37,160.58 498.37,160.57 C498.37,160.57 498.37,160.57 498.37,160.57 C498.37,160.56 498.37,160.56 498.37,160.56 C498.38,160.56 498.38,160.55 498.38,160.55 C498.38,160.55 498.38,160.54 498.38,160.54 C498.38,160.54 498.38,160.54 498.38,160.53 C498.38,160.53 498.38,160.53 498.38,160.52 C498.38,160.52 498.38,160.52 498.38,160.51 C498.38,160.51 498.38,160.51 498.38,160.51 C498.38,160.5 498.38,160.5 498.38,160.5 C498.38,160.49 498.38,160.49 498.38,160.48 C498.38,160.48 498.38,160.48 498.39,160.47 C498.39,160.47 498.39,160.47 498.39,160.46 C498.39,160.46 498.39,160.46 498.39,160.45 C498.39,160.45 498.39,160.44 498.39,160.44 C498.39,160.44 498.39,160.43 498.39,160.43 C498.39,160.42 498.39,160.42 498.39,160.42 C498.39,160.41 498.39,160.41 498.39,160.4 C498.39,160.4 498.39,160.39 498.4,160.39 C498.4,160.38 498.4,160.38 498.4,160.38 C498.4,160.37 498.4,160.37 498.4,160.36 C498.4,160.36 498.4,160.35 498.4,160.35 C498.4,160.34 498.4,160.34 498.4,160.33 C498.4,160.33 498.4,160.32 498.4,160.32 C498.4,160.31 498.41,160.3 498.41,160.3 C498.41,160.29 498.41,160.29 498.41,160.28 C498.41,160.28 498.41,160.27 498.41,160.27 C498.41,160.26 498.41,160.25 498.41,160.25 C498.41,160.24 498.41,160.23 498.41,160.23 C498.42,160.22 498.42,160.22 498.42,160.21 C498.42,160.2 498.42,160.2 498.42,160.19 C498.42,160.18 498.42,160.18 498.42,160.17 C498.42,160.16 498.42,160.16 498.42,160.15 C498.43,160.14 498.43,160.13 498.43,160.13 C498.43,160.12 498.43,160.11 498.43,160.1 C498.43,160.1 498.43,160.09 498.43,160.08 C498.43,160.07 498.43,160.06 498.44,160.06 C498.44,160.05 498.44,160.04 498.44,160.03 C498.44,160.02 498.44,160.01 498.44,160 C498.44,160 498.44,159.99 498.45,159.98 C498.45,159.97 498.45,159.96 498.45,159.95 C498.45,159.94 498.45,159.93 498.45,159.92 C498.45,159.91 498.45,159.9 498.46,159.89 C498.46,159.88 498.46,159.87 498.46,159.86 C498.46,159.85 498.46,159.84 498.46,159.83 C498.46,159.82 498.47,159.81 498.47,159.8 C498.47,159.79 498.47,159.78 498.47,159.76 C498.47,159.75 498.47,159.74 498.48,159.73 C498.48,159.72 498.48,159.71 498.48,159.69 C498.48,159.68 498.48,159.67 498.49,159.66 C498.49,159.64 498.49,159.63 498.49,159.62 C498.49,159.61 498.49,159.59 498.49,159.58 C498.5,159.57 498.5,159.55 498.5,159.54 C498.5,159.52 498.5,159.51 498.51,159.5 C498.51,159.48 498.51,159.47 498.51,159.45 C498.51,159.44 498.51,159.42 498.52,159.41 C498.52,159.39 498.52,159.38 498.52,159.36 C498.52,159.34 498.53,159.33 498.53,159.31 C498.53,159.29 498.53,159.28 498.53,159.26 C498.54,159.24 498.54,159.23 498.54,159.21 C498.54,159.19 498.55,159.17 498.55,159.16 C498.55,159.14 498.55,159.12 498.55,159.1 C498.56,159.08 498.56,159.06 498.56,159.04 C498.56,159.02 498.57,159 498.57,158.98 C498.57,158.96 498.57,158.94 498.58,158.92 C498.58,158.9 498.58,158.88 498.59,158.86 C498.59,158.84 498.59,158.82 498.59,158.8 C498.6,158.77 498.6,158.75 498.6,158.73 C498.6,158.71 498.61,158.68 498.61,158.66 C498.61,158.64 498.62,158.61 498.62,158.59 C498.62,158.56 498.63,158.54 498.63,158.51 C498.63,158.49 498.64,158.46 498.64,158.44 C498.64,158.41 498.65,158.38 498.65,158.36 C498.65,158.33 498.66,158.3 498.66,158.28 C498.66,158.25 498.67,158.22 498.67,158.19 C498.67,158.16 498.68,158.13 498.68,158.1 C498.69,158.07 498.69,158.04 498.69,158.01 C498.7,157.98 498.7,157.95 498.71,157.92 C498.71,157.89 498.71,157.86 498.72,157.82 C498.72,157.79 498.73,157.76 498.73,157.72 C498.74,157.69 498.74,157.66 498.75,157.62 C498.75,157.59 498.76,157.55 498.76,157.52 C498.76,157.48 498.77,157.44 498.77,157.41 C498.78,157.37 498.78,157.33 498.79,157.29 C498.79,157.25 498.8,157.21 498.81,157.17 C498.81,157.13 498.82,157.09 498.82,157.05 C498.83,157.01 498.83,156.97 498.84,156.93 C498.84,156.89 498.85,156.84 498.86,156.8 C498.86,156.75 498.87,156.71 498.87,156.67 C498.88,156.62 498.89,156.57 498.89,156.53 C498.9,156.48 498.91,156.43 498.91,156.38 C498.92,156.34 498.93,156.29 498.93,156.24 C498.94,156.19 498.95,156.14 498.95,156.08 C498.96,156.03 498.97,155.98 498.98,155.93 C498.98,155.87 498.99,155.82 499,155.76 C499.01,155.71 499.01,155.65 499.02,155.6 C499.03,155.54 499.04,155.48 499.05,155.42 C499.05,155.36 499.06,155.3 499.07,155.24 C499.08,155.18 499.09,155.12 499.1,155.06 C499.11,155 499.12,154.93 499.12,154.87 C499.13,154.8 499.14,154.74 499.15,154.67 C499.16,154.6 499.17,154.54 499.18,154.47 C499.19,154.4 499.2,154.33 499.21,154.26 C499.22,154.18 499.23,154.11 499.24,154.04 C499.26,153.96 499.27,153.89 499.28,153.81 C499.29,153.74 499.3,153.66 499.31,153.58 C499.32,153.5 499.34,153.42 499.35,153.34 C499.36,153.26 499.37,153.18 499.38,153.09 C499.4,153.01 499.41,152.92 499.42,152.84 C499.44,152.75 499.45,152.66 499.46,152.57 C499.48,152.48 499.49,152.39 499.5,152.3 C499.52,152.21 499.53,152.11 499.55,152.02 C499.56,151.92 499.58,151.83 499.59,151.73 C499.61,151.63 499.62,151.53 499.64,151.43 C499.66,151.33 499.67,151.22 499.69,151.12 C499.71,151.01 499.72,150.91 499.74,150.8 C499.76,150.69 499.77,150.58 499.79,150.47 C499.81,150.36 499.83,150.24 499.85,150.13 C499.87,150.01 499.89,149.89 499.9,149.78 C499.92,149.66 499.94,149.53 499.96,149.41 C499.98,149.29 500.01,149.16 500.03,149.04 C500.05,148.91 500.07,148.78 500.09,148.65 C500.11,148.52 500.14,148.39 500.16,148.25 C500.18,148.12 500.21,147.98 500.23,147.84 C500.25,147.7 500.28,147.56 500.3,147.41 C500.33,147.27 500.35,147.12 500.38,146.97 C500.41,146.83 500.43,146.67 500.46,146.52 C500.49,146.37 500.51,146.21 500.54,146.05 C500.57,145.9 500.6,145.74 500.63,145.57 C500.66,145.41 500.69,145.24 500.72,145.08 C500.75,144.91 500.78,144.74 500.81,144.56 C500.85,144.39 500.88,144.21 500.91,144.03 C500.95,143.86 500.98,143.67 501.02,143.49 C501.05,143.3 501.09,143.12 501.12,142.93 C501.16,142.74 501.2,142.54 501.23,142.35 C501.27,142.15 501.31,141.95 501.35,141.75 C501.39,141.55 501.43,141.34 501.47,141.13 C501.52,140.93 501.56,140.71 501.6,140.5 C501.65,140.29 501.69,140.07 501.74,139.85 C501.78,139.62 501.83,139.4 501.88,139.17 C501.92,138.94 501.97,138.71 502.02,138.48 C502.07,138.24 502.12,138.01 502.17,137.76 C502.23,137.52 502.28,137.28 502.33,137.03 C502.39,136.78 502.44,136.53 502.5,136.27 C502.56,136.01 502.62,135.75 502.68,135.49 C502.73,135.22 502.8,134.96 502.86,134.68 C502.92,134.41 502.98,134.14 503.05,133.86 C503.11,133.58 503.18,133.29 503.25,133.01 C503.32,132.72 503.39,132.43 503.46,132.13 C503.53,131.84 503.6,131.54 503.68,131.23 C503.75,130.93 503.83,130.62 503.91,130.31 C503.98,129.99 504.06,129.68 504.15,129.35 C504.23,129.03 504.31,128.71 504.4,128.38 C504.48,128.05 504.57,127.71 504.66,127.37 C504.75,127.03 504.84,126.69 504.93,126.34 C505.03,125.99 505.12,125.64 505.22,125.28 C505.32,124.92 505.42,124.56 505.52,124.19 C505.63,123.82 505.73,123.45 505.84,123.07 C505.95,122.7 506.06,122.32 506.17,121.93 C506.28,121.54 506.4,121.15 506.52,120.75 C506.64,120.36 506.76,119.96 506.88,119.55 C507,119.14 507.13,118.73 507.26,118.32 C507.39,117.9 507.52,117.48 507.66,117.05 C507.79,116.63 507.93,116.2 508.07,115.76 C508.22,115.32 508.36,114.88 508.51,114.44 C508.66,113.99 508.81,113.54 508.97,113.08 C509.12,112.63 509.28,112.17 509.45,111.7 C509.61,111.23 509.77,110.76 509.95,110.29 C510.12,109.81 510.29,109.33 510.47,108.84 C510.65,108.36 510.83,107.87 511.02,107.37 C511.2,106.87 511.39,106.37 511.59,105.87 C511.79,105.36 511.99,104.85 512.19,104.34 C512.39,103.82 512.6,103.3 512.82,102.78 C513.03,102.26 513.25,101.73 513.47,101.2 C513.7,100.66 513.92,100.13 514.16,99.58 C514.39,99.04 514.63,98.5 514.87,97.95 C515.12,97.4 515.37,96.84 515.62,96.29 C515.88,95.73 516.14,95.17 516.4,94.6 C516.67,94.04 516.94,93.47 517.22,92.9 C517.49,92.33 517.78,91.75 518.07,91.17 C518.36,90.59 518.65,90.01 518.95,89.43 C519.25,88.84 519.56,88.26 519.88,87.67 C520.19,87.08 520.51,86.49 520.84,85.89 C521.17,85.3 521.5,84.71 521.84,84.11 C522.18,83.51 522.53,82.91 522.88,82.31 C523.24,81.71 523.6,81.11 523.97,80.51 C524.34,79.91 524.71,79.31 525.1,78.71 C525.48,78.1 525.87,77.5 526.27,76.9 C526.66,76.3 527.07,75.7 527.48,75.1 C527.89,74.5 528.31,73.9 528.74,73.3 C529.17,72.7 529.6,72.11 530.05,71.51 C530.49,70.92 530.94,70.33 531.4,69.74 C531.85,69.15 532.32,68.56 532.79,67.98 C533.27,67.4 533.75,66.82 534.24,66.25 C534.73,65.67 535.22,65.1 535.73,64.54 C536.23,63.97 536.74,63.41 537.26,62.86 C537.78,62.31 538.31,61.76 538.85,61.22 C539.38,60.67 539.93,60.14 540.48,59.61 C541.03,59.09 541.58,58.56 542.15,58.05 C542.72,57.54 543.29,57.04 543.87,56.54 C544.45,56.05 545.04,55.56 545.63,55.09 C546.23,54.61 546.83,54.15 547.44,53.69 C548.05,53.24 548.66,52.79 549.28,52.36 C549.91,51.92 550.53,51.5 551.17,51.09 C551.8,50.68 552.45,50.29 553.09,49.9 C553.74,49.52 554.39,49.14 555.05,48.79 C555.71,48.43 556.38,48.08 557.05,47.75 C557.72,47.42 558.39,47.1 559.07,46.8 C559.75,46.5 560.44,46.22 561.12,45.94 C561.81,45.67 562.51,45.42 563.2,45.18 C563.9,44.94 564.6,44.71 565.31,44.51 C566.01,44.3 566.72,44.11 567.43,43.93 C568.14,43.76 568.85,43.6 569.57,43.46 C570.28,43.32 571,43.2 571.72,43.09 C572.44,42.99 573.16,42.9 573.89,42.83 C574.61,42.76 575.33,42.7 576.06,42.67 C576.78,42.63 577.51,42.61 578.23,42.61 C578.96,42.61 579.68,42.63 580.41,42.67 C581.13,42.7 581.85,42.76 582.58,42.83 C583.3,42.9 584.02,42.99 584.74,43.09 C585.46,43.2 586.18,43.32 586.89,43.46 C587.61,43.6 588.32,43.76 589.03,43.93 C589.74,44.11 590.45,44.3 591.16,44.51 C591.86,44.71 592.56,44.94 593.26,45.18 C593.96,45.42 594.65,45.67 595.34,45.94 C596.03,46.22 596.71,46.5 597.39,46.8 C598.07,47.1 598.75,47.42 599.42,47.75 C600.09,48.08 600.75,48.43 601.41,48.79 C602.07,49.14 602.72,49.52 603.37,49.9 C604.02,50.29 604.66,50.68 605.29,51.09 C605.93,51.5 606.56,51.92 607.18,52.36 C607.8,52.79 608.42,53.24 609.03,53.69 C609.63,54.15 610.24,54.61 610.83,55.09 C611.43,55.56 612.01,56.05 612.59,56.54 C613.17,57.04 613.75,57.54 614.31,58.05 C614.88,58.56 615.44,59.09 615.99,59.61 C616.54,60.14 617.08,60.67 617.62,61.22 C618.15,61.76 618.68,62.31 619.2,62.86 C619.72,63.41 620.23,63.97 620.74,64.54 C621.24,65.1 621.74,65.67 622.23,66.25 C622.71,66.82 623.2,67.4 623.67,67.98 C624.14,68.56 624.61,69.15 625.07,69.74 C625.52,70.33 625.97,70.92 626.42,71.51 C626.86,72.11 627.29,72.7 627.72,73.3 C628.15,73.9 628.57,74.5 628.98,75.1 C629.39,75.7 629.8,76.3 630.2,76.9 C630.59,77.5 630.98,78.1 631.37,78.71 C631.75,79.31 632.12,79.91 632.49,80.51 C632.86,81.11 633.22,81.71 633.58,82.31 C633.93,82.91 634.28,83.51 634.62,84.11 C634.96,84.71 635.3,85.3 635.62,85.89 C635.95,86.49 636.27,87.08 636.59,87.67 C636.9,88.26 637.21,88.84 637.51,89.43 C637.81,90.01 638.11,90.59 638.4,91.17 C638.69,91.75 638.97,92.33 639.25,92.9 C639.52,93.47 639.8,94.04 640.06,94.6 C640.33,95.17 640.59,95.73 640.84,96.29 C641.1,96.84 641.35,97.4 641.59,97.95 C641.83,98.5 642.07,99.04 642.31,99.58 C642.54,100.13 642.77,100.66 642.99,101.2 C643.21,101.73 643.43,102.26 643.65,102.78 C643.86,103.3 644.07,103.82 644.27,104.34 C644.48,104.85 644.68,105.36 644.87,105.87 C645.07,106.37 645.26,106.87 645.45,107.37 C645.63,107.87 645.81,108.36 645.99,108.84 C646.17,109.33 646.35,109.81 646.52,110.29 C646.69,110.76 646.85,111.23 647.02,111.7 C647.18,112.17 647.34,112.63 647.5,113.08 C647.65,113.54 647.8,113.99 647.95,114.44 C648.1,114.88 648.32,115.54 648.39,115.76" fill="none" stroke="#008000" stroke-width="1.4"/>
<path d="M499.56,160.63 C499.56,160.63 499.56,160.63 499.56,160.62 C499.56,160.62 499.56,160.62 499.56,160.62 C499.56,160.62 499.56,160.62 499.56,160.61 C499.56,160.61 499.56,160.61 499.56,160.61 C499.56,160.61 499.56,160.6 499.56,160.6 C499.56,160.6 499.56,160.6 499.56,160.59 C499.57,160.59 499.57,160.59 499.57,160.59 C499.57,160.59 499.57,160.58 499.57,160.58 C499.57,160.58 499.57,160.58 499.57,160.57 C499.57,160.57 499.57,160.57 499.57,160.57 C499.57,160.57 499.57,160.56 499.57,160.56 C499.57,160.56 499.57,160.55 499.57,160.55 C499.57,160.55 499.57,160.55 499.57,160.54 C499.57,160.54 499.57,160.54 499.57,160.54 C499.57,160.53 499.57,160.53 499.58,160.53 C499.58,160.53 499.58,160.52 499.58,160.52 C499.58,160.52 499.58,160.51 499.58,160.51 C499.58,160.51 499.58,160.5 499.58,160.5 C499.58,160.5 499.58,160.49 499.58,160.49 C499.58,160.49 499.58,160.48 499.58,160.48 C499.58,160.48 499.58,160.47 499.58,160.47 C499.58,160.47 499.59,160.46 499.59,160.46 C499.59,160.46 499.59,160.45 499.59,160.45 C499.59,160.45 499.59,160.44 499.59,160.44 C499.59,160.44 499.59,160.43 499.59,160.43 C499.59,160.42 499.59,160.42 499.59,160.42 C499.59,160.41 499.59,160.41 499.6,160.4 C499.6,160.4 499.6,160.39 499.6,160.39 C499.6,160.39 499.6,160.38 499.6,160.38 C499.6,160.37 499.6,160.37 499.6,160.36 C499.6,160.36 499.6,160.35 499.6,160.35 C499.6,160.35 499.61,160.34 499.61,160.34 C499.61,160.33 499.61,160.33 499.61,160.32 C499.61,160.32 499.61,160.31 499.61,160.31 C499.61,160.3 499.61,160.29 499.61,160.29 C499.61,160.28 499.62,160.28 499.62,160.27 C499.62,160.27 499.62,160.26 499.62,160.26 C499.62,160.25 499.62,160.24 499.62,160.24 C499.62,160.23 499.62,160.23 499.62,160.22 C499.63,160.22 499.63,160.21 499.63,160.2 C499.63,160.2 499.63,160.19 499.63,160.18 C499.63,160.18 499.63,160.17 499.63,160.16 C499.63,160.16 499.64,160.15 499.64,160.14 C499.64,160.14 499.64,160.13 499.64,160.12 C499.64,160.12 499.64,160.11 499.64,160.1 C499.64,160.09 499.65,160.09 499.65,160.08 C499.65,160.07 499.65,160.06 499.65,160.06 C499.65,160.05 499.65,160.04 499.65,160.03 C499.66,160.02 499.66,160.02 499.66,160.01 C499.66,160 499.66,159.99 499.66,159.98 C499.66,159.97 499.67,159.96 499.67,159.96 C499.67,159.95 499.67,159.94 499.67,159.93 C499.67,159.92 499.67,159.91 499.68,159.9 C499.68,159.89 499.68,159.88 499.68,159.87 C499.68,159.86 499.68,159.85 499.69,159.84 C499.69,159.83 499.69,159.82 499.69,159.81 C499.69,159.8 499.69,159.79 499.7,159.78 C499.7,159.77 499.7,159.76 499.7,159.75 C499.7,159.74 499.7,159.73 499.71,159.71 C499.71,159.7 499.71,159.69 499.71,159.68 C499.71,159.67 499.72,159.66 499.72,159.64 C499.72,159.63 499.72,159.62 499.72,159.61 C499.73,159.6 499.73,159.58 499.73,159.57 C499.73,159.56 499.73,159.54 499.74,159.53 C499.74,159.52 499.74,159.5 499.74,159.49 C499.74,159.48 499.75,159.46 499.75,159.45 C499.75,159.43 499.75,159.42 499.76,159.4 C499.76,159.39 499.76,159.38 499.76,159.36 C499.77,159.35 499.77,159.33 499.77,159.31 C499.77,159.3 499.78,159.28 499.78,159.27 C499.78,159.25 499.78,159.23 499.79,159.22 C499.79,159.2 499.79,159.18 499.79,159.17 C499.8,159.15 499.8,159.13 499.8,159.12 C499.81,159.1 499.81,159.08 499.81,159.06 C499.81,159.04 499.82,159.03 499.82,159.01 C499.82,158.99 499.83,158.97 499.83,158.95 C499.83,158.93 499.84,158.91 499.84,158.89 C499.84,158.87 499.85,158.85 499.85,158.83 C499.85,158.81 499.86,158.79 499.86,158.77 C499.86,158.75 499.87,158.72 499.87,158.7 C499.87,158.68 499.88,158.66 499.88,158.64 C499.89,158.61 499.89,158.59 499.89,158.57 C499.9,158.54 499.9,158.52 499.91,158.5 C499.91,158.47 499.91,158.45 499.92,158.42 C499.92,158.4 499.93,158.37 499.93,158.35 C499.93,158.32 499.94,158.29 499.94,158.27 C499.95,158.24 499.95,158.22 499.96,158.19 C499.96,158.16 499.97,158.13 499.97,158.1 C499.98,158.08 499.98,158.05 499.98,158.02 C499.99,157.99 499.99,157.96 500,157.93 C500,157.9 500.01,157.87 500.02,157.84 C500.02,157.81 500.03,157.78 500.03,157.75 C500.04,157.71 500.04,157.68 500.05,157.65 C500.05,157.62 500.06,157.58 500.06,157.55 C500.07,157.51 500.08,157.48 500.08,157.44 C500.09,157.41 500.09,157.37 500.1,157.34 C500.11,157.3 500.11,157.27 500.12,157.23 C500.12,157.19 500.13,157.15 500.14,157.11 C500.14,157.08 500.15,157.04 500.16,157 C500.16,156.96 500.17,156.92 500.18,156.88 C500.19,156.84 500.19,156.79 500.2,156.75 C500.21,156.71 500.21,156.67 500.22,156.62 C500.23,156.58 500.24,156.54 500.25,156.49 C500.25,156.45 500.26,156.4 500.27,156.35 C500.28,156.31 500.28,156.26 500.29,156.21 C500.3,156.17 500.31,156.12 500.32,156.07 C500.33,156.02 500.34,155.97 500.34,155.92 C500.35,155.87 500.36,155.82 500.37,155.76 C500.38,155.71 500.39,155.66 500.4,155.6 C500.41,155.55 500.42,155.5 500.43,155.44 C500.44,155.38 500.45,155.33 500.46,155.27 C500.47,155.21 500.48,155.15 500.49,155.1 C500.5,155.04 500.51,154.98 500.52,154.92 C500.53,154.85 500.54,154.79 500.56,154.73 C500.57,154.67 500.58,154.6 500.59,154.54 C500.6,154.47 500.61,154.41 500.63,154.34 C500.64,154.27 500.65,154.2 500.66,154.14 C500.68,154.07 500.69,154 500.7,153.93 C500.71,153.85 500.73,153.78 500.74,153.71 C500.75,153.63 500.77,153.56 500.78,153.48 C500.8,153.41 500.81,153.33 500.82,153.25 C500.84,153.18 500.85,153.1 500.87,153.02 C500.88,152.94 500.9,152.85 500.91,152.77 C500.93,152.69 500.95,152.6 500.96,152.52 C500.98,152.43 500.99,152.35 501.01,152.26 C501.03,152.17 501.04,152.08 501.06,151.99 C501.08,151.9 501.1,151.81 501.11,151.71 C501.13,151.62 501.15,151.52 501.17,151.43 C501.19,151.33 501.21,151.23 501.22,151.13 C501.24,151.03 501.26,150.93 501.28,150.83 C501.3,150.73 501.32,150.62 501.34,150.52 C501.36,150.41 501.39,150.3 501.41,150.2 C501.43,150.09 501.45,149.98 501.47,149.86 C501.49,149.75 501.52,149.64 501.54,149.52 C501.56,149.41 501.59,149.29 501.61,149.17 C501.63,149.05 501.66,148.93 501.68,148.81 C501.71,148.68 501.73,148.56 501.76,148.43 C501.78,148.31 501.81,148.18 501.84,148.05 C501.86,147.92 501.89,147.78 501.92,147.65 C501.95,147.52 501.97,147.38 502,147.24 C502.03,147.1 502.06,146.96 502.09,146.82 C502.12,146.68 502.15,146.53 502.18,146.39 C502.21,146.24 502.24,146.09 502.28,145.94 C502.31,145.79 502.34,145.63 502.37,145.48 C502.41,145.32 502.44,145.16 502.48,145 C502.51,144.84 502.54,144.68 502.58,144.52 C502.62,144.35 502.65,144.18 502.69,144.01 C502.73,143.84 502.77,143.67 502.8,143.5 C502.84,143.32 502.88,143.14 502.92,142.96 C502.96,142.78 503,142.6 503.05,142.41 C503.09,142.23 503.13,142.04 503.17,141.85 C503.22,141.66 503.26,141.47 503.31,141.27 C503.35,141.07 503.4,140.87 503.45,140.67 C503.49,140.47 503.54,140.26 503.59,140.06 C503.64,139.85 503.69,139.64 503.74,139.42 C503.79,139.21 503.84,138.99 503.9,138.77 C503.95,138.55 504,138.33 504.06,138.1 C504.11,137.88 504.17,137.65 504.23,137.41 C504.28,137.18 504.34,136.95 504.4,136.71 C504.46,136.47 504.52,136.22 504.58,135.98 C504.64,135.73 504.71,135.48 504.77,135.23 C504.84,134.98 504.9,134.72 504.97,134.46 C505.04,134.2 505.11,133.94 505.17,133.67 C505.24,133.4 505.32,133.13 505.39,132.86 C505.46,132.58 505.54,132.31 505.61,132.02 C505.69,131.74 505.76,131.46 505.84,131.17 C505.92,130.88 506,130.58 506.08,130.29 C506.17,129.99 506.25,129.69 506.33,129.38 C506.42,129.08 506.51,128.77 506.6,128.46 C506.69,128.14 506.78,127.83 506.87,127.51 C506.96,127.18 507.06,126.86 507.15,126.53 C507.25,126.2 507.35,125.87 507.45,125.53 C507.55,125.19 507.65,124.85 507.76,124.5 C507.86,124.16 507.97,123.8 508.08,123.45 C508.18,123.09 508.3,122.73 508.41,122.37 C508.52,122.01 508.64,121.64 508.76,121.26 C508.88,120.89 509,120.51 509.12,120.13 C509.24,119.75 509.37,119.36 509.5,118.97 C509.63,118.58 509.76,118.19 509.89,117.79 C510.02,117.39 510.16,116.98 510.3,116.57 C510.44,116.16 510.58,115.75 510.73,115.33 C510.87,114.91 511.02,114.49 511.17,114.06 C511.32,113.63 511.48,113.2 511.63,112.76 C511.79,112.33 511.95,111.88 512.12,111.44 C512.28,110.99 512.45,110.54 512.62,110.08 C512.79,109.63 512.97,109.17 513.14,108.7 C513.32,108.24 513.5,107.77 513.69,107.29 C513.87,106.82 514.06,106.34 514.26,105.85 C514.45,105.37 514.65,104.88 514.85,104.39 C515.05,103.9 515.25,103.4 515.46,102.9 C515.67,102.4 515.89,101.89 516.1,101.38 C516.32,100.87 516.54,100.36 516.77,99.84 C517,99.32 517.23,98.79 517.46,98.27 C517.7,97.74 517.94,97.21 518.18,96.67 C518.43,96.14 518.68,95.6 518.94,95.05 C519.19,94.51 519.45,93.96 519.72,93.41 C519.98,92.86 520.25,92.31 520.53,91.75 C520.8,91.19 521.08,90.63 521.37,90.06 C521.66,89.5 521.95,88.93 522.25,88.36 C522.54,87.79 522.85,87.21 523.15,86.64 C523.46,86.06 523.78,85.48 524.1,84.9 C524.42,84.31 524.75,83.73 525.08,83.14 C525.41,82.55 525.75,81.96 526.09,81.37 C526.44,80.78 526.79,80.19 527.15,79.59 C527.51,79 527.87,78.4 528.24,77.8 C528.61,77.21 528.99,76.61 529.37,76.01 C529.75,75.41 530.14,74.81 530.54,74.21 C530.94,73.61 531.34,73.01 531.75,72.41 C532.16,71.81 532.58,71.2 533,70.6 C533.43,70 533.86,69.4 534.3,68.81 C534.74,68.21 535.18,67.61 535.64,67.01 C536.09,66.42 536.55,65.82 537.02,65.23 C537.48,64.64 537.96,64.05 538.44,63.46 C538.92,62.88 539.41,62.29 539.91,61.71 C540.4,61.13 540.91,60.55 541.42,59.98 C541.93,59.41 542.45,58.84 542.97,58.27 C543.5,57.71 544.03,57.15 544.57,56.59 C545.11,56.04 545.66,55.49 546.21,54.94 C546.76,54.4 547.33,53.86 547.89,53.33 C548.46,52.8 549.04,52.27 549.62,51.75 C550.2,51.24 550.79,50.72 551.39,50.22 C551.99,49.72 552.59,49.22 553.2,48.74 C553.81,48.25 554.43,47.77 555.05,47.31 C555.67,46.84 556.31,46.38 556.94,45.93 C557.58,45.48 558.22,45.04 558.87,44.61 C559.52,44.18 560.17,43.76 560.83,43.36 C561.5,42.95 562.16,42.56 562.84,42.17 C563.51,41.79 564.19,41.42 564.87,41.06 C565.55,40.7 566.24,40.35 566.93,40.02 C567.63,39.68 568.33,39.36 569.03,39.05 C569.73,38.75 570.44,38.45 571.15,38.17 C571.86,37.89 572.58,37.63 573.3,37.38 C574.02,37.12 574.74,36.89 575.47,36.67 C576.19,36.44 576.92,36.24 577.66,36.05 C578.39,35.85 579.13,35.68 579.86,35.52 C580.6,35.36 581.34,35.21 582.09,35.08 C582.83,34.95 583.57,34.84 584.32,34.74 C585.07,34.64 585.81,34.56 586.56,34.5 C587.31,34.43 588.06,34.38 588.81,34.35 C589.56,34.32 590.31,34.3 591.06,34.3 C591.81,34.3 592.56,34.32 593.31,34.35 C594.06,34.38 594.81,34.43 595.56,34.5 C596.31,34.56 597.06,34.64 597.8,34.74 C598.55,34.84 599.3,34.95 600.04,35.08 C600.78,35.21 601.52,35.36 602.26,35.52 C603,35.68 603.73,35.85 604.47,36.05 C605.2,36.24 605.93,36.44 606.66,36.67 C607.38,36.89 608.11,37.12 608.83,37.38 C609.55,37.63 610.26,37.89 610.97,38.17 C611.69,38.45 612.39,38.75 613.1,39.05 C613.8,39.36 614.5,39.68 615.19,40.02 C615.88,40.35 616.57,40.7 617.26,41.06 C617.94,41.42 618.62,41.79 619.29,42.17 C619.96,42.56 620.63,42.95 621.29,43.36 C621.95,43.76 622.61,44.18 623.25,44.61 C623.9,45.04 624.55,45.48 625.18,45.93 C625.82,46.38 626.45,46.84 627.07,47.31 C627.7,47.77 628.31,48.25 628.92,48.74 C629.53,49.22 630.14,49.72 630.73,50.22 C631.33,50.72 631.92,51.24 632.5,51.75 C633.09,52.27 633.66,52.8 634.23,53.33 C634.8,53.86 635.36,54.4 635.92,54.94 C636.47,55.49 637.02,56.04 637.56,56.59 C638.1,57.15 638.63,57.71 639.15,58.27 C639.68,58.84 640.2,59.41 640.71,59.98 C641.22,60.55 641.72,61.13 642.22,61.71 C642.71,62.29 643.2,62.88 643.69,63.46 C644.17,64.05 644.64,64.64 645.11,65.23 C645.58,65.82 646.04,66.42 646.49,67.01 C646.94,67.61 647.39,68.21 647.83,68.81 C648.26,69.4 648.7,70 649.12,70.6 C649.54,71.2 649.96,71.81 650.37,72.41 C650.78,73.01 651.19,73.61 651.58,74.21 C651.98,74.81 652.37,75.41 652.75,76.01 C653.14,76.61 653.51,77.21 653.89,77.8 C654.26,78.4 654.62,79 654.98,79.59 C655.33,80.19 655.69,80.78 656.03,81.37 C656.38,81.96 656.71,82.55 657.05,83.14 C657.38,83.73 657.71,84.31 658.03,84.9 C658.35,85.48 658.66,86.06 658.97,86.64 C659.28,87.21 659.58,87.79 659.88,88.36 C660.18,88.93 660.47,89.5 660.76,90.06 C661.04,90.63 661.32,91.19 661.6,91.75 C661.87,92.31 662.14,92.86 662.41,93.41 C662.67,93.96 662.93,94.51 663.19,95.05 C663.44,95.6 663.69,96.14 663.94,96.67 C664.19,97.21 664.43,97.74 664.66,98.27 C664.9,98.79 665.13,99.32 665.35,99.84 C665.58,100.36 665.8,100.87 666.02,101.38 C666.24,101.89 666.45,102.4 666.66,102.9 C666.87,103.4 667.08,103.9 667.28,104.39 C667.48,104.88 667.77,105.61 667.87,105.85" fill="none" stroke="#000" stroke-width="1.4"/>
<path d="M497.87,160.69 C497.87,160.69 497.87,160.69 497.87,160.69 C497.87,160.69 497.87,160.69 497.87,160.68 C497.87,160.68 497.87,160.68 497.87,160.68 C497.87,160.68 497.88,160.68 497.88,160.68 C497.88,160.68 497.88,160.67 497.88,160.67 C497.88,160.67 497.88,160.67 497.88,160.67 C497.88,160.67 497.88,160.67 497.88,160.67 C497.88,160.66 497.88,160.66 497.88,160.66 C497.88,160.66 497.88,160.66 497.88,160.66 C497.88,160.66 497.88,160.65 497.88,160.65 C497.88,160.65 497.88,160.65 497.88,160.65 C497.88,160.65 497.88,160.64 497.88,160.64 C497.88,160.64 497.88,160.64 497.88,160.64 C497.88,160.64 497.88,160.63 497.88,160.63 C497.88,160.63 497.88,160.63 497.88,160.63 C497.88,160.63 497.88,160.62 497.88,160.62 C497.89,160.62 497.89,160.62 497.89,160.62 C497.89,160.61 497.89,160.61 497.89,160.61 C497.89,160.61 497.89,160.61 497.89,160.61 C497.89,160.6 497.89,160.6 497.89,160.6 C497.89,160.6 497.89,160.59 497.89,160.59 C497.89,160.59 497.89,160.59 497.89,160.59 C497.89,160.58 497.89,160.58 497.89,160.58 C497.89,160.58 497.89,160.57 497.89,160.57 C497.89,160.57 497.89,160.57 497.89,160.57 C497.9,160.56 497.9,160.56 497.9,160.56 C497.9,160.56 497.9,160.55 497.9,160.55 C497.9,160.55 497.9,160.55 497.9,160.54 C497.9,160.54 497.9,160.54 497.9,160.53 C497.9,160.53 497.9,160.53 497.9,160.53 C497.9,160.52 497.9,160.52 497.9,160.52 C497.9,160.51 497.9,160.51 497.9,160.51 C497.91,160.51 497.91,160.5 497.91,160.5 C497.91,160.5 497.91,160.49 497.91,160.49 C497.91,160.49 497.91,160.48 497.91,160.48 C497.91,160.48 497.91,160.47 497.91,160.47 C497.91,160.47 497.91,160.46 497.91,160.46 C497.91,160.46 497.91,160.45 497.91,160.45 C497.92,160.45 497.92,160.44 497.92,160.44 C497.92,160.43 497.92,160.43 497.92,160.43 C497.92,160.42 497.92,160.42 497.92,160.42 C497.92,160.41 497.92,160.41 497.92,160.4 C497.92,160.4 497.92,160.4 497.93,160.39 C497.93,160.39 497.93,160.38 497.93,160.38 C497.93,160.37 497.93,160.37 497.93,160.37 C497.93,160.36 497.93,160.36 497.93,160.35 C497.93,160.35 497.93,160.34 497.93,160.34 C497.94,160.33 497.94,160.33 497.94,160.32 C497.94,160.32 497.94,160.31 497.94,160.31 C497.94,160.3 497.94,160.3 497.94,160.29 C497.94,160.29 497.94,160.28 497.95,160.28 C497.95,160.27 497.95,160.27 497.95,160.26 C497.95,160.25 497.95,160.25 497.95,160.24 C497.95,160.24 497.95,160.23 497.95,160.23 C497.95,160.22 497.96,160.21 497.96,160.21 C497.96,160.2 497.96,160.2 497.96,160.19 C497.96,160.18 497.96,160.18 497.96,160.17 C497.96,160.16 497.97,160.16 497.97,160.15 C497.97,160.14 497.97,160.14 497.97,160.13 C497.97,160.12 497.97,160.12 497.97,160.11 C497.98,160.1 497.98,160.1 497.98,160.09 C497.98,160.08 497.98,160.07 497.98,160.07 C497.98,160.06 497.98,160.05 497.99,160.04 C497.99,160.03 497.99,160.03 497.99,160.02 C497.99,160.01 497.99,160 497.99,159.99 C498,159.99 498,159.98 498,159.97 C498,159.96 498,159.95 498,159.94 C498.01,159.93 498.01,159.93 498.01,159.92 C498.01,159.91 498.01,159.9 498.01,159.89 C498.02,159.88 498.02,159.87 498.02,159.86 C498.02,159.85 498.02,159.84 498.02,159.83 C498.03,159.82 498.03,159.81 498.03,159.8 C498.03,159.79 498.03,159.78 498.03,159.77 C498.04,159.76 498.04,159.75 498.04,159.74 C498.04,159.73 498.04,159.72 498.05,159.7 C498.05,159.69 498.05,159.68 498.05,159.67 C498.05,159.66 498.06,159.65 498.06,159.63 C498.06,159.62 498.06,159.61 498.07,159.6 C498.07,159.59 498.07,159.57 498.07,159.56 C498.07,159.55 498.08,159.53 498.08,159.52 C498.08,159.51 498.08,159.5 498.09,159.48 C498.09,159.47 498.09,159.45 498.09,159.44 C498.1,159.43 498.1,159.41 498.1,159.4 C498.1,159.38 498.11,159.37 498.11,159.35 C498.11,159.34 498.11,159.32 498.12,159.31 C498.12,159.29 498.12,159.28 498.13,159.26 C498.13,159.25 498.13,159.23 498.13,159.21 C498.14,159.2 498.14,159.18 498.14,159.17 C498.15,159.15 498.15,159.13 498.15,159.11 C498.16,159.1 498.16,159.08 498.16,159.06 C498.17,159.04 498.17,159.03 498.17,159.01 C498.18,158.99 498.18,158.97 498.18,158.95 C498.19,158.93 498.19,158.91 498.19,158.89 C498.2,158.87 498.2,158.86 498.2,158.83 C498.21,158.81 498.21,158.79 498.22,158.77 C498.22,158.75 498.22,158.73 498.23,158.71 C498.23,158.69 498.24,158.67 498.24,158.65 C498.24,158.62 498.25,158.6 498.25,158.58 C498.26,158.56 498.26,158.53 498.26,158.51 C498.27,158.49 498.27,158.46 498.28,158.44 C498.28,158.41 498.29,158.39 498.29,158.36 C498.3,158.34 498.3,158.31 498.31,158.29 C498.31,158.26 498.32,158.24 498.32,158.21 C498.33,158.18 498.33,158.16 498.34,158.13 C498.34,158.1 498.35,158.08 498.35,158.05 C498.36,158.02 498.36,157.99 498.37,157.96 C498.37,157.93 498.38,157.9 498.38,157.87 C498.39,157.84 498.4,157.81 498.4,157.78 C498.41,157.75 498.41,157.72 498.42,157.69 C498.43,157.66 498.43,157.63 498.44,157.59 C498.44,157.56 498.45,157.53 498.46,157.49 C498.46,157.46 498.47,157.43 498.48,157.39 C498.48,157.36 498.49,157.32 498.5,157.29 C498.5,157.25 498.51,157.21 498.52,157.18 C498.53,157.14 498.53,157.1 498.54,157.06 C498.55,157.03 498.56,156.99 498.56,156.95 C498.57,156.91 498.58,156.87 498.59,156.83 C498.6,156.79 498.6,156.75 498.61,156.71 C498.62,156.67 498.63,156.62 498.64,156.58 C498.65,156.54 498.65,156.49 498.66,156.45 C498.67,156.41 498.68,156.36 498.69,156.32 C498.7,156.27 498.71,156.22 498.72,156.18 C498.73,156.13 498.74,156.08 498.75,156.03 C498.76,155.99 498.77,155.94 498.78,155.89 C498.79,155.84 498.8,155.79 498.81,155.74 C498.82,155.69 498.83,155.63 498.84,155.58 C498.85,155.53 498.86,155.47 498.87,155.42 C498.88,155.37 498.89,155.31 498.91,155.26 C498.92,155.2 498.93,155.14 498.94,155.08 C498.95,155.03 498.97,154.97 498.98,154.91 C498.99,154.85 499,154.79 499.02,154.73 C499.03,154.67 499.04,154.61 499.06,154.54 C499.07,154.48 499.08,154.42 499.1,154.35 C499.11,154.29 499.13,154.22 499.14,154.15 C499.15,154.09 499.17,154.02 499.18,153.95 C499.2,153.88 499.21,153.81 499.23,153.74 C499.24,153.67 499.26,153.6 499.28,153.53 C499.29,153.45 499.31,153.38 499.32,153.3 C499.34,153.23 499.36,153.15 499.38,153.08 C499.39,153 499.41,152.92 499.43,152.84 C499.45,152.76 499.46,152.68 499.48,152.6 C499.5,152.52 499.52,152.44 499.54,152.35 C499.56,152.27 499.58,152.18 499.6,152.09 C499.62,152.01 499.64,151.92 499.66,151.83 C499.68,151.74 499.7,151.65 499.72,151.56 C499.74,151.47 499.76,151.38 499.79,151.28 C499.81,151.19 499.83,151.09 499.85,150.99 C499.88,150.9 499.9,150.8 499.93,150.7 C499.95,150.6 499.97,150.5 500,150.4 C500.02,150.29 500.05,150.19 500.07,150.08 C500.1,149.98 500.13,149.87 500.15,149.76 C500.18,149.65 500.21,149.54 500.23,149.43 C500.26,149.32 500.29,149.21 500.32,149.09 C500.35,148.98 500.38,148.86 500.41,148.74 C500.44,148.62 500.47,148.5 500.5,148.38 C500.53,148.26 500.56,148.14 500.59,148.01 C500.63,147.89 500.66,147.76 500.69,147.64 C500.73,147.51 500.76,147.38 500.8,147.25 C500.83,147.11 500.87,146.98 500.9,146.85 C500.94,146.71 500.98,146.57 501.01,146.44 C501.05,146.3 501.09,146.16 501.13,146.01 C501.17,145.87 501.21,145.73 501.25,145.58 C501.29,145.43 501.33,145.29 501.37,145.14 C501.42,144.99 501.46,144.83 501.5,144.68 C501.55,144.52 501.59,144.37 501.64,144.21 C501.68,144.05 501.73,143.89 501.78,143.73 C501.82,143.57 501.87,143.4 501.92,143.24 C501.97,143.07 502.02,142.9 502.07,142.73 C502.12,142.56 502.18,142.39 502.23,142.21 C502.28,142.04 502.34,141.86 502.39,141.68 C502.45,141.5 502.5,141.32 502.56,141.13 C502.62,140.95 502.68,140.76 502.74,140.58 C502.8,140.39 502.86,140.2 502.92,140 C502.99,139.81 503.05,139.62 503.11,139.42 C503.18,139.22 503.24,139.02 503.31,138.82 C503.38,138.62 503.45,138.41 503.52,138.2 C503.59,138 503.66,137.79 503.73,137.58 C503.81,137.36 503.88,137.15 503.96,136.93 C504.03,136.72 504.11,136.5 504.19,136.28 C504.27,136.06 504.35,135.83 504.43,135.61 C504.51,135.38 504.6,135.15 504.68,134.92 C504.77,134.69 504.86,134.46 504.95,134.22 C505.03,133.98 505.12,133.75 505.22,133.51 C505.31,133.26 505.4,133.02 505.5,132.78 C505.6,132.53 505.69,132.28 505.79,132.03 C505.89,131.78 506,131.53 506.1,131.27 C506.2,131.02 506.31,130.76 506.42,130.5 C506.53,130.24 506.64,129.98 506.75,129.71 C506.86,129.45 506.98,129.18 507.09,128.91 C507.21,128.64 507.33,128.37 507.45,128.1 C507.57,127.83 507.69,127.55 507.82,127.27 C507.95,126.99 508.07,126.71 508.2,126.43 C508.34,126.15 508.47,125.86 508.6,125.58 C508.74,125.29 508.88,125 509.02,124.71 C509.16,124.42 509.3,124.13 509.45,123.83 C509.6,123.54 509.75,123.24 509.9,122.94 C510.05,122.65 510.21,122.35 510.36,122.04 C510.52,121.74 510.68,121.44 510.84,121.13 C511.01,120.83 511.17,120.52 511.34,120.21 C511.51,119.91 511.69,119.6 511.86,119.29 C512.04,118.98 512.22,118.66 512.4,118.35 C512.58,118.04 512.76,117.72 512.95,117.41 C513.14,117.09 513.33,116.78 513.53,116.46 C513.72,116.14 513.92,115.82 514.12,115.51 C514.33,115.19 514.53,114.87 514.74,114.55 C514.95,114.23 515.16,113.91 515.38,113.59 C515.59,113.27 515.81,112.95 516.03,112.63 C516.26,112.31 516.48,111.99 516.71,111.67 C516.94,111.35 517.18,111.03 517.41,110.71 C517.65,110.39 517.89,110.07 518.14,109.76 C518.38,109.44 518.63,109.12 518.88,108.81 C519.13,108.49 519.39,108.18 519.65,107.86 C519.91,107.55 520.17,107.24 520.44,106.93 C520.71,106.62 520.98,106.31 521.25,106 C521.53,105.69 521.81,105.39 522.09,105.09 C522.37,104.78 522.66,104.48 522.95,104.19 C523.24,103.89 523.53,103.59 523.83,103.3 C524.13,103.01 524.43,102.72 524.74,102.43 C525.04,102.15 525.35,101.87 525.66,101.59 C525.98,101.31 526.29,101.03 526.61,100.76 C526.93,100.49 527.26,100.22 527.58,99.96 C527.91,99.7 528.24,99.44 528.57,99.18 C528.91,98.93 529.25,98.68 529.59,98.43 C529.93,98.19 530.27,97.95 530.62,97.72 C530.97,97.48 531.32,97.25 531.67,97.03 C532.03,96.8 532.38,96.59 532.74,96.37 C533.1,96.16 533.47,95.96 533.83,95.76 C534.2,95.56 534.57,95.36 534.94,95.18 C535.31,94.99 535.68,94.81 536.06,94.64 C536.44,94.46 536.82,94.3 537.2,94.14 C537.58,93.98 537.96,93.82 538.35,93.68 C538.73,93.53 539.12,93.4 539.51,93.27 C539.9,93.13 540.29,93.01 540.69,92.9 C541.08,92.78 541.48,92.67 541.87,92.58 C542.27,92.48 542.67,92.38 543.07,92.3 C543.47,92.22 543.87,92.14 544.27,92.08 C544.67,92.01 545.07,91.95 545.48,91.9 C545.88,91.85 546.28,91.81 546.69,91.77 C547.09,91.74 547.5,91.71 547.9,91.7 C548.31,91.68 548.71,91.67 549.12,91.67 C549.53,91.67 549.93,91.68 550.34,91.7 C550.74,91.71 551.15,91.74 551.55,91.77 C551.96,91.81 552.36,91.85 552.76,91.9 C553.17,91.95 553.57,92.01 553.97,92.08 C554.37,92.14 554.77,92.22 555.17,92.3 C555.57,92.38 555.97,92.48 556.37,92.58 C556.76,92.67 557.16,92.78 557.55,92.9 C557.95,93.01 558.34,93.13 558.73,93.27 C559.12,93.4 559.5,93.53 559.89,93.68 C560.28,93.82 560.66,93.98 561.04,94.14 C561.42,94.3 561.8,94.46 562.18,94.64 C562.56,94.81 562.93,94.99 563.3,95.18 C563.67,95.36 564.04,95.56 564.41,95.76 C564.77,95.96 565.14,96.16 565.5,96.37 C565.86,96.59 566.21,96.8 566.57,97.03 C566.92,97.25 567.27,97.48 567.62,97.72 C567.97,97.95 568.31,98.19 568.65,98.43 C568.99,98.68 569.33,98.93 569.66,99.18 C570,99.44 570.33,99.7 570.66,99.96 C570.98,100.22 571.31,100.49 571.63,100.76 C571.95,101.03 572.26,101.31 572.58,101.59 C572.89,101.87 573.2,102.15 573.5,102.43 C573.81,102.72 574.11,103.01 574.41,103.3 C574.7,103.59 575,103.89 575.29,104.19 C575.58,104.48 575.87,104.78 576.15,105.09 C576.43,105.39 576.71,105.69 576.98,106 C577.26,106.31 577.53,106.62 577.8,106.93 C578.07,107.24 578.33,107.55 578.59,107.86 C578.85,108.18 579.1,108.49 579.36,108.81 C579.61,109.12 579.86,109.44 580.1,109.76 C580.35,110.07 580.59,110.39 580.83,110.71 C581.06,111.03 581.3,111.35 581.53,111.67 C581.76,111.99 581.98,112.31 582.21,112.63 C582.43,112.95 582.65,113.27 582.86,113.59 C583.08,113.91 583.29,114.23 583.5,114.55 C583.71,114.87 583.91,115.19 584.12,115.51 C584.32,115.82 584.52,116.14 584.71,116.46 C584.91,116.78 585.1,117.09 585.29,117.41 C585.47,117.72 585.66,118.04 585.84,118.35 C586.02,118.66 586.2,118.98 586.38,119.29 C586.55,119.6 586.73,119.91 586.9,120.21 C587.06,120.52 587.23,120.83 587.39,121.13 C587.56,121.44 587.72,121.74 587.88,122.04 C588.03,122.35 588.19,122.65 588.34,122.94 C588.49,123.24 588.64,123.54 588.79,123.83 C588.93,124.13 589.08,124.42 589.22,124.71 C589.36,125 589.5,125.29 589.63,125.58 C589.77,125.86 589.97,126.29 590.03,126.43" fill="none" stroke="#ff0000" stroke-width="1.4"/>
<path d="M497.79,157.6L500.29,162.22L495.29,162.22Z" fill="none" stroke="#008000" stroke-width="0.9"/>
<path d="M497.81,157.49L500.31,162.11L495.31,162.11Z" fill="none" stroke="#008000" stroke-width="0.9"/>
<path d="M497.82,157.35L500.32,161.98L495.32,161.98Z" fill="none" stroke="#008000" stroke-width="0.9"/>
<path d="M497.85,157.2L500.35,161.82L495.35,161.82Z" fill="none" stroke="#008000" stroke-width="0.9"/>
<path d="M497.87,157.01L500.37,161.63L495.37,161.63Z" fill="none" stroke="#008000" stroke-width="0.9"/>
<path d="M497.9,156.78L500.4,161.41L495.4,161.41Z" fill="none" stroke="#008000" stroke-width="0.9"/>
<path d="M497.94,156.52L500.44,161.14L495.44,161.14Z" fill="none" stroke="#008000" stroke-width="0.9"/>
<path d="M497.98,156.2L500.48,160.82L495.48,160.82Z" fill="none" stroke="#008000" stroke-width="0.9"/>
<path d="M498.03,155.82L500.53,160.44L495.53,160.44Z" fill="none" stroke="#008000" stroke-width="0.9"/>
<path d="M498.1,155.37L500.6,159.99L495.6,159.99Z" fill="none" stroke="#008000" stroke-width="0.9"/>
<path d="M498.17,154.83L500.67,159.46L495.67,159.46Z" fill="none" stroke="#008000" stroke-width="0.9"/>
<path d="M498.26,154.19L500.76,158.82L495.76,158.82Z" fill="none" stroke="#008000" stroke-width="0.9"/>
<path d="M498.37,153.43L500.87,158.06L495.87,158.06Z" fill="none" stroke="#008000" stroke-width="0.9"/>
<path d="M498.51,152.53L501.01,157.16L496.01,157.16Z" fill="none" stroke="#008000" stroke-width="0.9"/>
<path d="M498.67,151.46L501.17,156.08L496.17,156.08Z" fill="none" stroke="#008000" stroke-width="0.9"/>
<path d="M498.88,150.18L501.38,154.81L496.38,154.81Z" fill="none" stroke="#008000" stroke-width="0.9"/>
<path d="M499.12,148.67L501.62,153.3L496.62,153.3Z" fill="none" stroke="#008000" stroke-width="0.9"/>
<path d="M499.43,146.88L501.93,151.51L496.93,151.51Z" fill="none" stroke="#008000" stroke-width="0.9"/>
<path d="M499.81,144.76L502.31,149.39L497.31,149.39Z" fill="none" stroke="#008000" stroke-width="0.9"/>
<path d="M500.28,142.26L502.78,146.89L497.78,146.89Z" fill="none" stroke="#008000" stroke-width="0.9"/>
<path d="M500.87,139.31L503.37,143.94L498.37,143.94Z" fill="none" stroke="#008000" stroke-width="0.9"/>
<path d="M501.61,135.85L504.11,140.47L499.11,140.47Z" fill="none" stroke="#008000" stroke-width="0.9"/>
<path d="M502.54,131.8L505.04,136.42L500.04,136.42Z" fill="none" stroke="#008000" stroke-width="0.9"/>
<path d="M503.73,127.08L506.23,131.71L501.23,131.71Z" fill="none" stroke="#008000" stroke-width="0.9"/>
<path d="M505.23,121.63L507.73,126.25L502.73,126.25Z" fill="none" stroke="#008000" stroke-width="0.9"/>
<path d="M507.15,115.37L509.65,120L504.65,120Z" fill="none" stroke="#008000" stroke-width="0.9"/>
<path d="M509.59,108.29L512.09,112.92L507.09,112.92Z" fill="none" stroke="#008000" stroke-width="0.9"/>
<path d="M512.69,100.4L515.19,105.02L510.19,105.02Z" fill="none" stroke="#008000" stroke-width="0.9"/>
<path d="M516.6,91.77L519.1,96.4L514.1,96.4Z" fill="none" stroke="#008000" stroke-width="0.9"/>
<path d="M521.48,82.61L523.98,87.23L518.98,87.23Z" fill="none" stroke="#008000" stroke-width="0.9"/>
<path d="M527.43,73.22L529.93,77.85L524.93,77.85Z" fill="none" stroke="#008000" stroke-width="0.9"/>
<path d="M534.61,64.09L537.11,68.71L532.11,68.71Z" fill="none" stroke="#008000" stroke-width="0.9"/>
<path d="M543.1,55.78L545.6,60.4L540.6,60.4Z" fill="none" stroke="#008000" stroke-width="0.9"/>
<path d="M552.83,48.94L555.33,53.57L550.33,53.57Z" fill="none" stroke="#008000" stroke-width="0.9"/>
<path d="M563.58,44.2L566.08,48.82L561.08,48.82Z" fill="none" stroke="#008000" stroke-width="0.9"/>
<path d="M574.96,42L577.46,46.63L572.46,46.63Z" fill="none" stroke="#008000" stroke-width="0.9"/>
<path d="M586.49,42.58L588.99,47.2L583.99,47.2Z" fill="none" stroke="#008000" stroke-width="0.9"/>
<path d="M597.66,45.87L600.16,50.5L595.16,50.5Z" fill="none" stroke="#008000" stroke-width="0.9"/>
<path d="M608.03,51.55L610.53,56.17L605.53,56.17Z" fill="none" stroke="#008000" stroke-width="0.9"/>
<path d="M617.26,59.07L619.76,63.69L614.76,63.69Z" fill="none" stroke="#008000" stroke-width="0.9"/>
<path d="M625.22,67.79L627.72,72.42L622.72,72.42Z" fill="none" stroke="#008000" stroke-width="0.9"/>
<path d="M631.86,77.1L634.36,81.72L629.36,81.72Z" fill="none" stroke="#008000" stroke-width="0.9"/>
<path d="M637.3,86.44L639.8,91.06L634.8,91.06Z" fill="none" stroke="#008000" stroke-width="0.9"/>
<path d="M641.66,95.41L644.16,100.04L639.16,100.04Z" fill="none" stroke="#008000" stroke-width="0.9"/>
<path d="M645.13,103.75L647.63,108.38L642.63,108.38Z" fill="none" stroke="#008000" stroke-width="0.9"/>
<path d="M647.85,111.32L650.35,115.94L645.35,115.94Z" fill="none" stroke="#008000" stroke-width="0.9"/>
<rect x="497.2" y="158.24" width="3.2" height="3.2" fill="none" stroke="#000" stroke-width="0.9"/>
<rect x="497.23" y="158.07" width="3.2" height="3.2" fill="none" stroke="#000" stroke-width="0.9"/>
<rect x="497.27" y="157.87" width="3.2" height="3.2" fill="none" stroke="#000" stroke-width="0.9"/>
<rect x="497.31" y="157.63" width="3.2" height="3.2" fill="none" stroke="#000" stroke-width="0.9"/>
<rect x="497.35" y="157.36" width="3.2" height="3.2" fill="none" stroke="#000" stroke-width="0.9"/>
<rect x="497.41" y="157.04" width="3.2" height="3.2" fill="none" stroke="#000" stroke-width="0.9"/>
<rect x="497.48" y="156.66" width="3.2" height="3.2" fill="none" stroke="#000" stroke-width="0.9"/>
<rect x="497.56" y="156.21" width="3.2" height="3.2" fill="none" stroke="#000" stroke-width="0.9"/>
<rect x="497.66" y="155.69" width="3.2" height="3.2" fill="none" stroke="#000" stroke-width="0.9"/>
<rect x="497.77" y="155.07" width="3.2" height="3.2" fill="none" stroke="#000" stroke-width="0.9"/>
<rect x="497.9" y="154.35" width="3.2" height="3.2" fill="none" stroke="#000" stroke-width="0.9"/>
<rect x="498.06" y="153.5" width="3.2" height="3.2" fill="none" stroke="#000" stroke-width="0.9"/>
<rect x="498.26" y="152.51" width="3.2" height="3.2" fill="none" stroke="#000" stroke-width="0.9"/>
<rect x="498.48" y="151.35" width="3.2" height="3.2" fill="none" stroke="#000" stroke-width="0.9"/>
<rect x="498.76" y="149.99" width="3.2" height="3.2" fill="none" stroke="#000" stroke-width="0.9"/>
<rect x="499.09" y="148.4" width="3.2" height="3.2" fill="none" stroke="#000" stroke-width="0.9"/>
<rect x="499.48" y="146.55" width="3.2" height="3.2" fill="none" stroke="#000" stroke-width="0.9"/>
<rect x="499.96" y="144.38" width="3.2" height="3.2" fill="none" stroke="#000" stroke-width="0.9"/>
<rect x="500.54" y="141.87" width="3.2" height="3.2" fill="none" stroke="#000" stroke-width="0.9"/>
<rect x="501.24" y="138.95" width="3.2" height="3.2" fill="none" stroke="#000" stroke-width="0.9"/>
<rect x="502.1" y="135.57" width="3.2" height="3.2" fill="none" stroke="#000" stroke-width="0.9"/>
<rect x="503.14" y="131.67" width="3.2" height="3.2" fill="none" stroke="#000" stroke-width="0.9"/>
<rect x="504.43" y="127.19" width="3.2" height="3.2" fill="none" stroke="#000" stroke-width="0.9"/>
<rect x="506" y="122.08" width="3.2" height="3.2" fill="none" stroke="#000" stroke-width="0.9"/>
<rect x="507.94" y="116.28" width="3.2" height="3.2" fill="none" stroke="#000" stroke-width="0.9"/>
<rect x="510.32" y="109.77" width="3.2" height="3.2" fill="none" stroke="#000" stroke-width="0.9"/>
<rect x="513.24" y="102.53" width="3.2" height="3.2" fill="none" stroke="#000" stroke-width="0.9"/>
<rect x="516.83" y="94.59" width="3.2" height="3.2" fill="none" stroke="#000" stroke-width="0.9"/>
<rect x="521.19" y="86.06" width="3.2" height="3.2" fill="none" stroke="#000" stroke-width="0.9"/>
<rect x="526.46" y="77.1" width="3.2" height="3.2" fill="none" stroke="#000" stroke-width="0.9"/>
<rect x="532.76" y="67.96" width="3.2" height="3.2" fill="none" stroke="#000" stroke-width="0.9"/>
<rect x="540.16" y="59.02" width="3.2" height="3.2" fill="none" stroke="#000" stroke-width="0.9"/>
<rect x="548.7" y="50.73" width="3.2" height="3.2" fill="none" stroke="#000" stroke-width="0.9"/>
<rect x="558.32" y="43.61" width="3.2" height="3.2" fill="none" stroke="#000" stroke-width="0.9"/>
<rect x="568.87" y="38.19" width="3.2" height="3.2" fill="none" stroke="#000" stroke-width="0.9"/>
<rect x="580.09" y="34.91" width="3.2" height="3.2" fill="none" stroke="#000" stroke-width="0.9"/>
<rect x="591.63" y="34.07" width="3.2" height="3.2" fill="none" stroke="#000" stroke-width="0.9"/>
<rect x="603.11" y="35.76" width="3.2" height="3.2" fill="none" stroke="#000" stroke-width="0.9"/>
<rect x="614.13" y="39.8" width="3.2" height="3.2" fill="none" stroke="#000" stroke-width="0.9"/>
<rect x="624.39" y="45.85" width="3.2" height="3.2" fill="none" stroke="#000" stroke-width="0.9"/>
<rect x="633.66" y="53.43" width="3.2" height="3.2" fill="none" stroke="#000" stroke-width="0.9"/>
<rect x="641.82" y="62" width="3.2" height="3.2" fill="none" stroke="#000" stroke-width="0.9"/>
<rect x="648.84" y="71.05" width="3.2" height="3.2" fill="none" stroke="#000" stroke-width="0.9"/>
<rect x="654.78" y="80.16" width="3.2" height="3.2" fill="none" stroke="#000" stroke-width="0.9"/>
<rect x="659.73" y="89.01" width="3.2" height="3.2" fill="none" stroke="#000" stroke-width="0.9"/>
<rect x="663.81" y="97.35" width="3.2" height="3.2" fill="none" stroke="#000" stroke-width="0.9"/>
<rect x="667.16" y="105.06" width="3.2" height="3.2" fill="none" stroke="#000" stroke-width="0.9"/>
<circle cx="496.72" cy="160.25" r="1.8" fill="none" stroke="#ff0000" stroke-width="0.9"/>
<circle cx="496.74" cy="160.16" r="1.8" fill="none" stroke="#ff0000" stroke-width="0.9"/>
<circle cx="496.77" cy="160.05" r="1.8" fill="none" stroke="#ff0000" stroke-width="0.9"/>
<circle cx="496.79" cy="159.93" r="1.8" fill="none" stroke="#ff0000" stroke-width="0.9"/>
<circle cx="496.82" cy="159.79" r="1.8" fill="none" stroke="#ff0000" stroke-width="0.9"/>
<circle cx="496.86" cy="159.62" r="1.8" fill="none" stroke="#ff0000" stroke-width="0.9"/>
<circle cx="496.91" cy="159.43" r="1.8" fill="none" stroke="#ff0000" stroke-width="0.9"/>
<circle cx="496.96" cy="159.2" r="1.8" fill="none" stroke="#ff0000" stroke-width="0.9"/>
<circle cx="497.02" cy="158.94" r="1.8" fill="none" stroke="#ff0000" stroke-width="0.9"/>
<circle cx="497.09" cy="158.64" r="1.8" fill="none" stroke="#ff0000" stroke-width="0.9"/>
<circle cx="497.17" cy="158.29" r="1.8" fill="none" stroke="#ff0000" stroke-width="0.9"/>
<circle cx="497.26" cy="157.89" r="1.8" fill="none" stroke="#ff0000" stroke-width="0.9"/>
<circle cx="497.38" cy="157.41" r="1.8" fill="none" stroke="#ff0000" stroke-width="0.9"/>
<circle cx="497.51" cy="156.87" r="1.8" fill="none" stroke="#ff0000" stroke-width="0.9"/>
<circle cx="497.66" cy="156.23" r="1.8" fill="none" stroke="#ff0000" stroke-width="0.9"/>
<circle cx="497.85" cy="155.5" r="1.8" fill="none" stroke="#ff0000" stroke-width="0.9"/>
<circle cx="498.06" cy="154.65" r="1.8" fill="none" stroke="#ff0000" stroke-width="0.9"/>
<circle cx="498.32" cy="153.68" r="1.8" fill="none" stroke="#ff0000" stroke-width="0.9"/>
<circle cx="498.62" cy="152.55" r="1.8" fill="none" stroke="#ff0000" stroke-width="0.9"/>
<circle cx="498.98" cy="151.26" r="1.8" fill="none" stroke="#ff0000" stroke-width="0.9"/>
<circle cx="499.41" cy="149.77" r="1.8" fill="none" stroke="#ff0000" stroke-width="0.9"/>
<circle cx="499.92" cy="148.07" r="1.8" fill="none" stroke="#ff0000" stroke-width="0.9"/>
<circle cx="500.53" cy="146.13" r="1.8" fill="none" stroke="#ff0000" stroke-width="0.9"/>
<circle cx="501.26" cy="143.93" r="1.8" fill="none" stroke="#ff0000" stroke-width="0.9"/>
<circle cx="502.13" cy="141.44" r="1.8" fill="none" stroke="#ff0000" stroke-width="0.9"/>
<circle cx="503.18" cy="138.64" r="1.8" fill="none" stroke="#ff0000" stroke-width="0.9"/>
<circle cx="504.43" cy="135.52" r="1.8" fill="none" stroke="#ff0000" stroke-width="0.9"/>
<circle cx="505.93" cy="132.07" r="1.8" fill="none" stroke="#ff0000" stroke-width="0.9"/>
<circle cx="507.72" cy="128.3" r="1.8" fill="none" stroke="#ff0000" stroke-width="0.9"/>
<circle cx="509.86" cy="124.24" r="1.8" fill="none" stroke="#ff0000" stroke-width="0.9"/>
<circle cx="512.39" cy="119.94" r="1.8" fill="none" stroke="#ff0000" stroke-width="0.9"/>
<circle cx="515.36" cy="115.49" r="1.8" fill="none" stroke="#ff0000" stroke-width="0.9"/>
<circle cx="518.82" cy="111.01" r="1.8" fill="none" stroke="#ff0000" stroke-width="0.9"/>
<circle cx="522.79" cy="106.65" r="1.8" fill="none" stroke="#ff0000" stroke-width="0.9"/>
<circle cx="527.28" cy="102.6" r="1.8" fill="none" stroke="#ff0000" stroke-width="0.9"/>
<circle cx="532.27" cy="99.09" r="1.8" fill="none" stroke="#ff0000" stroke-width="0.9"/>
<circle cx="537.68" cy="96.31" r="1.8" fill="none" stroke="#ff0000" stroke-width="0.9"/>
<circle cx="543.42" cy="94.46" r="1.8" fill="none" stroke="#ff0000" stroke-width="0.9"/>
<circle cx="549.35" cy="93.68" r="1.8" fill="none" stroke="#ff0000" stroke-width="0.9"/>
<circle cx="555.31" cy="94.01" r="1.8" fill="none" stroke="#ff0000" stroke-width="0.9"/>
<circle cx="561.14" cy="95.44" r="1.8" fill="none" stroke="#ff0000" stroke-width="0.9"/>
<circle cx="566.7" cy="97.86" r="1.8" fill="none" stroke="#ff0000" stroke-width="0.9"/>
<circle cx="571.87" cy="101.1" r="1.8" fill="none" stroke="#ff0000" stroke-width="0.9"/>
<circle cx="576.57" cy="104.96" r="1.8" fill="none" stroke="#ff0000" stroke-width="0.9"/>
<circle cx="580.75" cy="109.21" r="1.8" fill="none" stroke="#ff0000" stroke-width="0.9"/>
<circle cx="584.42" cy="113.67" r="1.8" fill="none" stroke="#ff0000" stroke-width="0.9"/>
<circle cx="587.58" cy="118.15" r="1.8" fill="none" stroke="#ff0000" stroke-width="0.9"/>
<circle cx="590.29" cy="122.52" r="1.8" fill="none" stroke="#ff0000" stroke-width="0.9"/>
<circle cx="592.57" cy="126.69" r="1.8" fill="none" stroke="#ff0000" stroke-width="0.9"/>
<path d="M496.61,163.07L498.81,159L494.41,159Z" fill="none" stroke="#0000ff" stroke-width="0.95"/>
<path d="M496.61,163.06L498.81,158.99L494.41,158.99Z" fill="none" stroke="#0000ff" stroke-width="0.95"/>
<path d="M496.62,163.06L498.82,158.99L494.42,158.99Z" fill="none" stroke="#0000ff" stroke-width="0.95"/>
<path d="M496.62,163.05L498.82,158.98L494.42,158.98Z" fill="none" stroke="#0000ff" stroke-width="0.95"/>
<path d="M496.62,163.04L498.82,158.97L494.42,158.97Z" fill="none" stroke="#0000ff" stroke-width="0.95"/>
<path d="M496.62,163.03L498.82,158.96L494.42,158.96Z" fill="none" stroke="#0000ff" stroke-width="0.95"/>
<path d="M496.63,163.03L498.83,158.96L494.43,158.96Z" fill="none" stroke="#0000ff" stroke-width="0.95"/>
<path d="M496.63,163.02L498.83,158.95L494.43,158.95Z" fill="none" stroke="#0000ff" stroke-width="0.95"/>
<path d="M496.63,163L498.83,158.93L494.43,158.93Z" fill="none" stroke="#0000ff" stroke-width="0.95"/>
<path d="M496.64,162.99L498.84,158.92L494.44,158.92Z" fill="none" stroke="#0000ff" stroke-width="0.95"/>
<path d="M496.64,162.98L498.84,158.91L494.44,158.91Z" fill="none" stroke="#0000ff" stroke-width="0.95"/>
<path d="M496.64,162.96L498.84,158.89L494.44,158.89Z" fill="none" stroke="#0000ff" stroke-width="0.95"/>
<path d="M496.65,162.95L498.85,158.88L494.45,158.88Z" fill="none" stroke="#0000ff" stroke-width="0.95"/>
<path d="M496.66,162.93L498.86,158.86L494.46,158.86Z" fill="none" stroke="#0000ff" stroke-width="0.95"/>
<path d="M496.66,162.91L498.86,158.84L494.46,158.84Z" fill="none" stroke="#0000ff" stroke-width="0.95"/>
<path d="M496.67,162.88L498.87,158.81L494.47,158.81Z" fill="none" stroke="#0000ff" stroke-width="0.95"/>
<path d="M496.68,162.85L498.88,158.78L494.48,158.78Z" fill="none" stroke="#0000ff" stroke-width="0.95"/>
<path d="M496.69,162.82L498.89,158.75L494.49,158.75Z" fill="none" stroke="#0000ff" stroke-width="0.95"/>
<path d="M496.7,162.79L498.9,158.72L494.5,158.72Z" fill="none" stroke="#0000ff" stroke-width="0.95"/>
<path d="M496.71,162.75L498.91,158.68L494.51,158.68Z" fill="none" stroke="#0000ff" stroke-width="0.95"/>
<path d="M496.72,162.71L498.92,158.64L494.52,158.64Z" fill="none" stroke="#0000ff" stroke-width="0.95"/>
<path d="M496.74,162.66L498.94,158.59L494.54,158.59Z" fill="none" stroke="#0000ff" stroke-width="0.95"/>
<path d="M496.75,162.61L498.95,158.54L494.55,158.54Z" fill="none" stroke="#0000ff" stroke-width="0.95"/>
<path d="M496.77,162.55L498.97,158.48L494.57,158.48Z" fill="none" stroke="#0000ff" stroke-width="0.95"/>
<path d="M496.79,162.49L498.99,158.42L494.59,158.42Z" fill="none" stroke="#0000ff" stroke-width="0.95"/>
<path d="M496.81,162.42L499.01,158.35L494.61,158.35Z" fill="none" stroke="#0000ff" stroke-width="0.95"/>
<path d="M496.84,162.34L499.04,158.27L494.64,158.27Z" fill="none" stroke="#0000ff" stroke-width="0.95"/>
<path d="M496.87,162.24L499.07,158.17L494.67,158.17Z" fill="none" stroke="#0000ff" stroke-width="0.95"/>
<path d="M496.9,162.14L499.1,158.07L494.7,158.07Z" fill="none" stroke="#0000ff" stroke-width="0.95"/>
<path d="M496.93,162.03L499.13,157.96L494.73,157.96Z" fill="none" stroke="#0000ff" stroke-width="0.95"/>
<path d="M496.97,161.91L499.17,157.84L494.77,157.84Z" fill="none" stroke="#0000ff" stroke-width="0.95"/>
<path d="M497.02,161.77L499.22,157.7L494.82,157.7Z" fill="none" stroke="#0000ff" stroke-width="0.95"/>
<path d="M497.07,161.61L499.27,157.54L494.87,157.54Z" fill="none" stroke="#0000ff" stroke-width="0.95"/>
<path d="M497.12,161.44L499.32,157.37L494.92,157.37Z" fill="none" stroke="#0000ff" stroke-width="0.95"/>
<path d="M497.19,161.24L499.39,157.17L494.99,157.17Z" fill="none" stroke="#0000ff" stroke-width="0.95"/>
<path d="M497.26,161.03L499.46,156.96L495.06,156.96Z" fill="none" stroke="#0000ff" stroke-width="0.95"/>
<path d="M497.33,160.79L499.53,156.72L495.13,156.72Z" fill="none" stroke="#0000ff" stroke-width="0.95"/>
<path d="M497.42,160.52L499.62,156.45L495.22,156.45Z" fill="none" stroke="#0000ff" stroke-width="0.95"/>
<path d="M497.52,160.22L499.72,156.15L495.32,156.15Z" fill="none" stroke="#0000ff" stroke-width="0.95"/>
<path d="M497.63,159.89L499.83,155.82L495.43,155.82Z" fill="none" stroke="#0000ff" stroke-width="0.95"/>
<path d="M497.76,159.53L499.96,155.46L495.56,155.46Z" fill="none" stroke="#0000ff" stroke-width="0.95"/>
<path d="M497.9,159.12L500.1,155.05L495.7,155.05Z" fill="none" stroke="#0000ff" stroke-width="0.95"/>
<path d="M498.06,158.67L500.26,154.6L495.86,154.6Z" fill="none" stroke="#0000ff" stroke-width="0.95"/>
<path d="M498.24,158.18L500.44,154.11L496.04,154.11Z" fill="none" stroke="#0000ff" stroke-width="0.95"/>
<path d="M498.44,157.63L500.64,153.56L496.24,153.56Z" fill="none" stroke="#0000ff" stroke-width="0.95"/>
<path d="M498.67,157.03L500.87,152.96L496.47,152.96Z" fill="none" stroke="#0000ff" stroke-width="0.95"/>
<path d="M498.93,156.36L501.13,152.29L496.73,152.29Z" fill="none" stroke="#0000ff" stroke-width="0.95"/>
<path d="M499.22,155.63L501.42,151.56L497.02,151.56Z" fill="none" stroke="#0000ff" stroke-width="0.95"/>
<path d="M499.55,154.83L501.75,150.76L497.35,150.76Z" fill="none" stroke="#0000ff" stroke-width="0.95"/>
<path d="M499.92,153.95L502.12,149.88L497.72,149.88Z" fill="none" stroke="#0000ff" stroke-width="0.95"/>
<path d="M500.33,152.99L502.53,148.92L498.13,148.92Z" fill="none" stroke="#0000ff" stroke-width="0.95"/>
<path d="M500.81,151.95L503.01,147.88L498.61,147.88Z" fill="none" stroke="#0000ff" stroke-width="0.95"/>
<path d="M501.34,150.83L503.54,146.76L499.14,146.76Z" fill="none" stroke="#0000ff" stroke-width="0.95"/>
<path d="M501.94,149.62L504.14,145.55L499.74,145.55Z" fill="none" stroke="#0000ff" stroke-width="0.95"/>
<path d="M502.62,148.32L504.82,144.25L500.42,144.25Z" fill="none" stroke="#0000ff" stroke-width="0.95"/>
<path d="M503.38,146.93L505.58,142.86L501.18,142.86Z" fill="none" stroke="#0000ff" stroke-width="0.95"/>
<path d="M504.24,145.47L506.44,141.4L502.04,141.4Z" fill="none" stroke="#0000ff" stroke-width="0.95"/>
<path d="M505.2,143.93L507.4,139.86L503,139.86Z" fill="none" stroke="#0000ff" stroke-width="0.95"/>
<path d="M506.27,142.33L508.47,138.26L504.07,138.26Z" fill="none" stroke="#0000ff" stroke-width="0.95"/>
<path d="M507.47,140.68L509.67,136.61L505.27,136.61Z" fill="none" stroke="#0000ff" stroke-width="0.95"/>
<path d="M508.8,139.01L511,134.94L506.6,134.94Z" fill="none" stroke="#0000ff" stroke-width="0.95"/>
<path d="M510.26,137.34L512.46,133.27L508.06,133.27Z" fill="none" stroke="#0000ff" stroke-width="0.95"/>
<path d="M511.87,135.69L514.07,131.62L509.67,131.62Z" fill="none" stroke="#0000ff" stroke-width="0.95"/>
<path d="M513.63,134.11L515.83,130.04L511.43,130.04Z" fill="none" stroke="#0000ff" stroke-width="0.95"/>
<path d="M515.52,132.62L517.72,128.55L513.32,128.55Z" fill="none" stroke="#0000ff" stroke-width="0.95"/>
<path d="M517.55,131.28L519.75,127.21L515.35,127.21Z" fill="none" stroke="#0000ff" stroke-width="0.95"/>
<path d="M519.7,130.11L521.9,126.04L517.5,126.04Z" fill="none" stroke="#0000ff" stroke-width="0.95"/>
<path d="M521.96,129.16L524.16,125.09L519.76,125.09Z" fill="none" stroke="#0000ff" stroke-width="0.95"/>
<path d="M524.31,128.45L526.51,124.38L522.11,124.38Z" fill="none" stroke="#0000ff" stroke-width="0.95"/>
<path d="M526.71,128.02L528.91,123.95L524.51,123.95Z" fill="none" stroke="#0000ff" stroke-width="0.95"/>
<path d="M529.14,127.87L531.34,123.8L526.94,123.8Z" fill="none" stroke="#0000ff" stroke-width="0.95"/>
<path d="M531.58,128.02L533.78,123.95L529.38,123.95Z" fill="none" stroke="#0000ff" stroke-width="0.95"/>
<path d="M533.98,128.45L536.18,124.38L531.78,124.38Z" fill="none" stroke="#0000ff" stroke-width="0.95"/>
<path d="M536.32,129.16L538.52,125.09L534.12,125.09Z" fill="none" stroke="#0000ff" stroke-width="0.95"/>
<path d="M538.58,130.11L540.78,126.04L536.38,126.04Z" fill="none" stroke="#0000ff" stroke-width="0.95"/>
<path d="M540.74,131.28L542.94,127.21L538.54,127.21Z" fill="none" stroke="#0000ff" stroke-width="0.95"/>
<path d="M542.77,132.62L544.97,128.55L540.57,128.55Z" fill="none" stroke="#0000ff" stroke-width="0.95"/>
<path d="M544.66,134.11L546.86,130.04L542.46,130.04Z" fill="none" stroke="#0000ff" stroke-width="0.95"/>
<path d="M546.41,135.69L548.61,131.62L544.21,131.62Z" fill="none" stroke="#0000ff" stroke-width="0.95"/>
<path d="M548.02,137.34L550.22,133.27L545.82,133.27Z" fill="none" stroke="#0000ff" stroke-width="0.95"/>
<path d="M497.11,158.08L499.42,160.5L497.11,162.92L494.8,160.5Z" fill="none" stroke="#ff8000" stroke-width="0.95"/>
<path d="M497.13,158.05L499.44,160.47L497.13,162.89L494.82,160.47Z" fill="none" stroke="#ff8000" stroke-width="0.95"/>
<path d="M497.15,158.01L499.46,160.43L497.15,162.85L494.84,160.43Z" fill="none" stroke="#ff8000" stroke-width="0.95"/>
<path d="M497.17,157.97L499.48,160.39L497.17,162.81L494.86,160.39Z" fill="none" stroke="#ff8000" stroke-width="0.95"/>
<path d="M497.19,157.93L499.5,160.35L497.19,162.77L494.88,160.35Z" fill="none" stroke="#ff8000" stroke-width="0.95"/>
<path d="M497.22,157.88L499.53,160.3L497.22,162.72L494.91,160.3Z" fill="none" stroke="#ff8000" stroke-width="0.95"/>
<path d="M497.25,157.83L499.56,160.25L497.25,162.67L494.94,160.25Z" fill="none" stroke="#ff8000" stroke-width="0.95"/>
<path d="M497.28,157.77L499.59,160.19L497.28,162.61L494.97,160.19Z" fill="none" stroke="#ff8000" stroke-width="0.95"/>
<path d="M497.32,157.71L499.63,160.13L497.32,162.55L495.01,160.13Z" fill="none" stroke="#ff8000" stroke-width="0.95"/>
<path d="M497.36,157.63L499.67,160.05L497.36,162.47L495.05,160.05Z" fill="none" stroke="#ff8000" stroke-width="0.95"/>
<path d="M497.41,157.55L499.72,159.97L497.41,162.39L495.1,159.97Z" fill="none" stroke="#ff8000" stroke-width="0.95"/>
<path d="M497.46,157.47L499.77,159.89L497.46,162.31L495.15,159.89Z" fill="none" stroke="#ff8000" stroke-width="0.95"/>
<path d="M497.52,157.37L499.83,159.79L497.52,162.21L495.21,159.79Z" fill="none" stroke="#ff8000" stroke-width="0.95"/>
<path d="M497.58,157.26L499.89,159.68L497.58,162.1L495.27,159.68Z" fill="none" stroke="#ff8000" stroke-width="0.95"/>
<path d="M497.65,157.14L499.96,159.56L497.65,161.98L495.34,159.56Z" fill="none" stroke="#ff8000" stroke-width="0.95"/>
<path d="M497.72,157.01L500.03,159.43L497.72,161.85L495.41,159.43Z" fill="none" stroke="#ff8000" stroke-width="0.95"/>
<path d="M497.81,156.87L500.12,159.29L497.81,161.71L495.5,159.29Z" fill="none" stroke="#ff8000" stroke-width="0.95"/>
<path d="M497.9,156.71L500.21,159.13L497.9,161.55L495.59,159.13Z" fill="none" stroke="#ff8000" stroke-width="0.95"/>
<path d="M498,156.54L500.31,158.96L498,161.38L495.69,158.96Z" fill="none" stroke="#ff8000" stroke-width="0.95"/>
<path d="M498.12,156.34L500.43,158.76L498.12,161.18L495.81,158.76Z" fill="none" stroke="#ff8000" stroke-width="0.95"/>
<path d="M498.25,156.13L500.56,158.55L498.25,160.97L495.94,158.55Z" fill="none" stroke="#ff8000" stroke-width="0.95"/>
<path d="M498.39,155.9L500.7,158.32L498.39,160.74L496.08,158.32Z" fill="none" stroke="#ff8000" stroke-width="0.95"/>
<path d="M498.54,155.65L500.85,158.07L498.54,160.49L496.23,158.07Z" fill="none" stroke="#ff8000" stroke-width="0.95"/>
<path d="M498.72,155.37L501.03,157.79L498.72,160.21L496.41,157.79Z" fill="none" stroke="#ff8000" stroke-width="0.95"/>
<path d="M498.91,155.06L501.22,157.48L498.91,159.9L496.6,157.48Z" fill="none" stroke="#ff8000" stroke-width="0.95"/>
<path d="M499.12,154.73L501.43,157.15L499.12,159.57L496.81,157.15Z" fill="none" stroke="#ff8000" stroke-width="0.95"/>
<path d="M499.35,154.36L501.66,156.78L499.35,159.2L497.04,156.78Z" fill="none" stroke="#ff8000" stroke-width="0.95"/>
<path d="M499.61,153.96L501.92,156.38L499.61,158.8L497.3,156.38Z" fill="none" stroke="#ff8000" stroke-width="0.95"/>
<path d="M499.9,153.53L502.21,155.95L499.9,158.37L497.59,155.95Z" fill="none" stroke="#ff8000" stroke-width="0.95"/>
<path d="M500.21,153.05L502.52,155.47L500.21,157.89L497.9,155.47Z" fill="none" stroke="#ff8000" stroke-width="0.95"/>
<path d="M500.56,152.54L502.87,154.96L500.56,157.38L498.25,154.96Z" fill="none" stroke="#ff8000" stroke-width="0.95"/>
<path d="M500.95,151.99L503.26,154.41L500.95,156.83L498.64,154.41Z" fill="none" stroke="#ff8000" stroke-width="0.95"/>
<path d="M501.37,151.39L503.68,153.81L501.37,156.23L499.06,153.81Z" fill="none" stroke="#ff8000" stroke-width="0.95"/>
<path d="M501.84,150.75L504.15,153.17L501.84,155.59L499.53,153.17Z" fill="none" stroke="#ff8000" stroke-width="0.95"/>
<path d="M502.36,150.05L504.67,152.47L502.36,154.89L500.05,152.47Z" fill="none" stroke="#ff8000" stroke-width="0.95"/>
<path d="M502.93,149.32L505.24,151.74L502.93,154.16L500.62,151.74Z" fill="none" stroke="#ff8000" stroke-width="0.95"/>
<path d="M503.55,148.53L505.86,150.95L503.55,153.37L501.24,150.95Z" fill="none" stroke="#ff8000" stroke-width="0.95"/>
<path d="M504.24,147.7L506.55,150.12L504.24,152.54L501.93,150.12Z" fill="none" stroke="#ff8000" stroke-width="0.95"/>
<path d="M504.99,146.83L507.3,149.25L504.99,151.67L502.68,149.25Z" fill="none" stroke="#ff8000" stroke-width="0.95"/>
<path d="M505.82,145.91L508.13,148.33L505.82,150.75L503.51,148.33Z" fill="none" stroke="#ff8000" stroke-width="0.95"/>
<path d="M506.71,144.96L509.02,147.38L506.71,149.8L504.4,147.38Z" fill="none" stroke="#ff8000" stroke-width="0.95"/>
<path d="M507.69,143.97L510,146.39L507.69,148.81L505.38,146.39Z" fill="none" stroke="#ff8000" stroke-width="0.95"/>
<path d="M508.75,142.97L511.06,145.39L508.75,147.81L506.44,145.39Z" fill="none" stroke="#ff8000" stroke-width="0.95"/>
<path d="M509.9,141.95L512.21,144.37L509.9,146.79L507.59,144.37Z" fill="none" stroke="#ff8000" stroke-width="0.95"/>
<path d="M511.14,140.92L513.45,143.34L511.14,145.76L508.83,143.34Z" fill="none" stroke="#ff8000" stroke-width="0.95"/>
<path d="M512.47,139.91L514.78,142.33L512.47,144.75L510.16,142.33Z" fill="none" stroke="#ff8000" stroke-width="0.95"/>
<path d="M513.89,138.92L516.2,141.34L513.89,143.76L511.58,141.34Z" fill="none" stroke="#ff8000" stroke-width="0.95"/>
<path d="M515.4,137.97L517.71,140.39L515.4,142.81L513.09,140.39Z" fill="none" stroke="#ff8000" stroke-width="0.95"/>
<path d="M517,137.07L519.31,139.49L517,141.91L514.69,139.49Z" fill="none" stroke="#ff8000" stroke-width="0.95"/>
<path d="M518.68,136.25L520.99,138.67L518.68,141.09L516.37,138.67Z" fill="none" stroke="#ff8000" stroke-width="0.95"/>
<path d="M520.43,135.53L522.74,137.95L520.43,140.37L518.12,137.95Z" fill="none" stroke="#ff8000" stroke-width="0.95"/>
<path d="M522.26,134.9L524.57,137.32L522.26,139.74L519.95,137.32Z" fill="none" stroke="#ff8000" stroke-width="0.95"/>
<path d="M524.14,134.4L526.45,136.82L524.14,139.24L521.83,136.82Z" fill="none" stroke="#ff8000" stroke-width="0.95"/>
<path d="M526.07,134.04L528.38,136.46L526.07,138.88L523.76,136.46Z" fill="none" stroke="#ff8000" stroke-width="0.95"/>
<path d="M528.02,133.81L530.33,136.23L528.02,138.65L525.71,136.23Z" fill="none" stroke="#ff8000" stroke-width="0.95"/>
<path d="M529.99,133.74L532.3,136.16L529.99,138.58L527.68,136.16Z" fill="none" stroke="#ff8000" stroke-width="0.95"/>
<path d="M531.96,133.81L534.27,136.23L531.96,138.65L529.65,136.23Z" fill="none" stroke="#ff8000" stroke-width="0.95"/>
<path d="M533.92,134.04L536.23,136.46L533.92,138.88L531.61,136.46Z" fill="none" stroke="#ff8000" stroke-width="0.95"/>
<path d="M535.84,134.4L538.15,136.82L535.84,139.24L533.53,136.82Z" fill="none" stroke="#ff8000" stroke-width="0.95"/>
<path d="M537.72,134.9L540.03,137.32L537.72,139.74L535.41,137.32Z" fill="none" stroke="#ff8000" stroke-width="0.95"/>
<path d="M539.55,135.53L541.86,137.95L539.55,140.37L537.24,137.95Z" fill="none" stroke="#ff8000" stroke-width="0.95"/>
<path d="M541.31,136.25L543.62,138.67L541.31,141.09L539,138.67Z" fill="none" stroke="#ff8000" stroke-width="0.95"/>
<path d="M542.99,137.07L545.3,139.49L542.99,141.91L540.68,139.49Z" fill="none" stroke="#ff8000" stroke-width="0.95"/>
<path d="M544.59,137.97L546.9,140.39L544.59,142.81L542.28,140.39Z" fill="none" stroke="#ff8000" stroke-width="0.95"/>
<path d="M546.1,138.92L548.41,141.34L546.1,143.76L543.79,141.34Z" fill="none" stroke="#ff8000" stroke-width="0.95"/>
<polygon points="498.61,161.53 496.79,162.58 494.97,161.53 494.97,159.43 496.79,158.38 498.61,159.43" fill="none" stroke="#9900cc" stroke-width="0.95"/>
<polygon points="498.63,161.5 496.81,162.55 494.99,161.5 494.99,159.4 496.81,158.35 498.63,159.4" fill="none" stroke="#9900cc" stroke-width="0.95"/>
<polygon points="498.65,161.46 496.83,162.51 495.01,161.46 495.01,159.36 496.83,158.31 498.65,159.36" fill="none" stroke="#9900cc" stroke-width="0.95"/>
<polygon points="498.68,161.42 496.86,162.47 495.04,161.42 495.04,159.32 496.86,158.27 498.68,159.32" fill="none" stroke="#9900cc" stroke-width="0.95"/>
<polygon points="498.7,161.38 496.88,162.43 495.06,161.38 495.06,159.28 496.88,158.23 498.7,159.28" fill="none" stroke="#9900cc" stroke-width="0.95"/>
<polygon points="498.73,161.33 496.91,162.38 495.09,161.33 495.09,159.23 496.91,158.18 498.73,159.23" fill="none" stroke="#9900cc" stroke-width="0.95"/>
<polygon points="498.76,161.28 496.95,162.33 495.13,161.28 495.13,159.18 496.95,158.13 498.76,159.18" fill="none" stroke="#9900cc" stroke-width="0.95"/>
<polygon points="498.8,161.22 496.98,162.27 495.16,161.22 495.16,159.12 496.98,158.07 498.8,159.12" fill="none" stroke="#9900cc" stroke-width="0.95"/>
<polygon points="498.84,161.16 497.02,162.21 495.2,161.16 495.2,159.06 497.02,158.01 498.84,159.06" fill="none" stroke="#9900cc" stroke-width="0.95"/>
<polygon points="498.88,161.08 497.06,162.13 495.24,161.08 495.24,158.98 497.06,157.93 498.88,158.98" fill="none" stroke="#9900cc" stroke-width="0.95"/>
<polygon points="498.93,161.01 497.11,162.06 495.29,161.01 495.29,158.91 497.11,157.86 498.93,158.91" fill="none" stroke="#9900cc" stroke-width="0.95"/>
<polygon points="498.98,160.92 497.16,161.97 495.35,160.92 495.35,158.82 497.16,157.77 498.98,158.82" fill="none" stroke="#9900cc" stroke-width="0.95"/>
<polygon points="499.04,160.83 497.22,161.88 495.4,160.83 495.4,158.73 497.22,157.68 499.04,158.73" fill="none" stroke="#9900cc" stroke-width="0.95"/>
<polygon points="499.11,160.72 497.29,161.77 495.47,160.72 495.47,158.62 497.29,157.57 499.11,158.62" fill="none" stroke="#9900cc" stroke-width="0.95"/>
<polygon points="499.18,160.61 497.36,161.66 495.54,160.61 495.54,158.51 497.36,157.46 499.18,158.51" fill="none" stroke="#9900cc" stroke-width="0.95"/>
<polygon points="499.25,160.49 497.44,161.54 495.62,160.49 495.62,158.39 497.44,157.34 499.25,158.39" fill="none" stroke="#9900cc" stroke-width="0.95"/>
<polygon points="499.34,160.35 497.52,161.4 495.7,160.35 495.7,158.25 497.52,157.2 499.34,158.25" fill="none" stroke="#9900cc" stroke-width="0.95"/>
<polygon points="499.44,160.2 497.62,161.25 495.8,160.2 495.8,158.1 497.62,157.05 499.44,158.1" fill="none" stroke="#9900cc" stroke-width="0.95"/>
<polygon points="499.54,160.04 497.72,161.09 495.9,160.04 495.9,157.94 497.72,156.89 499.54,157.94" fill="none" stroke="#9900cc" stroke-width="0.95"/>
<polygon points="499.66,159.86 497.84,160.91 496.02,159.86 496.02,157.76 497.84,156.71 499.66,157.76" fill="none" stroke="#9900cc" stroke-width="0.95"/>
<polygon points="499.78,159.66 497.96,160.71 496.14,159.66 496.14,157.56 497.96,156.51 499.78,157.56" fill="none" stroke="#9900cc" stroke-width="0.95"/>
<polygon points="499.92,159.45 498.1,160.5 496.28,159.45 496.28,157.35 498.1,156.3 499.92,157.35" fill="none" stroke="#9900cc" stroke-width="0.95"/>
<polygon points="500.08,159.21 498.26,160.26 496.44,159.21 496.44,157.11 498.26,156.06 500.08,157.11" fill="none" stroke="#9900cc" stroke-width="0.95"/>
<polygon points="500.25,158.96 498.43,160.01 496.61,158.96 496.61,156.86 498.43,155.81 500.25,156.86" fill="none" stroke="#9900cc" stroke-width="0.95"/>
<polygon points="500.43,158.68 498.62,159.73 496.8,158.68 496.8,156.58 498.62,155.53 500.43,156.58" fill="none" stroke="#9900cc" stroke-width="0.95"/>
<polygon points="500.64,158.38 498.82,159.43 497,158.38 497,156.28 498.82,155.23 500.64,156.28" fill="none" stroke="#9900cc" stroke-width="0.95"/>
<polygon points="500.87,158.05 499.05,159.1 497.23,158.05 497.23,155.95 499.05,154.9 500.87,155.95" fill="none" stroke="#9900cc" stroke-width="0.95"/>
<polygon points="501.12,157.69 499.3,158.74 497.48,157.69 497.48,155.59 499.3,154.54 501.12,155.59" fill="none" stroke="#9900cc" stroke-width="0.95"/>
<polygon points="501.39,157.3 499.57,158.35 497.75,157.3 497.75,155.2 499.57,154.15 501.39,155.2" fill="none" stroke="#9900cc" stroke-width="0.95"/>
<polygon points="501.69,156.89 499.87,157.94 498.06,156.89 498.06,154.79 499.87,153.74 501.69,154.79" fill="none" stroke="#9900cc" stroke-width="0.95"/>
<polygon points="502.02,156.44 500.21,157.49 498.39,156.44 498.39,154.34 500.21,153.29 502.02,154.34" fill="none" stroke="#9900cc" stroke-width="0.95"/>
<polygon points="502.39,155.95 500.57,157 498.75,155.95 498.75,153.85 500.57,152.8 502.39,153.85" fill="none" stroke="#9900cc" stroke-width="0.95"/>
<polygon points="502.79,155.43 500.97,156.48 499.15,155.43 499.15,153.33 500.97,152.28 502.79,153.33" fill="none" stroke="#9900cc" stroke-width="0.95"/>
<polygon points="503.23,154.88 501.41,155.93 499.59,154.88 499.59,152.78 501.41,151.73 503.23,152.78" fill="none" stroke="#9900cc" stroke-width="0.95"/>
<polygon points="503.71,154.29 501.89,155.34 500.07,154.29 500.07,152.19 501.89,151.14 503.71,152.19" fill="none" stroke="#9900cc" stroke-width="0.95"/>
<polygon points="504.23,153.66 502.41,154.71 500.59,153.66 500.59,151.56 502.41,150.51 504.23,151.56" fill="none" stroke="#9900cc" stroke-width="0.95"/>
<polygon points="504.8,153 502.98,154.05 501.16,153 501.16,150.9 502.98,149.85 504.8,150.9" fill="none" stroke="#9900cc" stroke-width="0.95"/>
<polygon points="505.43,152.31 503.61,153.36 501.79,152.31 501.79,150.21 503.61,149.16 505.43,150.21" fill="none" stroke="#9900cc" stroke-width="0.95"/>
<polygon points="506.11,151.58 504.29,152.63 502.47,151.58 502.47,149.48 504.29,148.43 506.11,149.48" fill="none" stroke="#9900cc" stroke-width="0.95"/>
<polygon points="506.85,150.82 505.03,151.87 503.21,150.82 503.21,148.72 505.03,147.67 506.85,148.72" fill="none" stroke="#9900cc" stroke-width="0.95"/>
<polygon points="507.65,150.04 505.83,151.09 504.01,150.04 504.01,147.94 505.83,146.89 507.65,147.94" fill="none" stroke="#9900cc" stroke-width="0.95"/>
<polygon points="508.51,149.24 506.69,150.29 504.88,149.24 504.88,147.14 506.69,146.09 508.51,147.14" fill="none" stroke="#9900cc" stroke-width="0.95"/>
<polygon points="509.45,148.43 507.63,149.48 505.81,148.43 505.81,146.33 507.63,145.28 509.45,146.33" fill="none" stroke="#9900cc" stroke-width="0.95"/>
<polygon points="510.45,147.61 508.63,148.66 506.81,147.61 506.81,145.51 508.63,144.46 510.45,145.51" fill="none" stroke="#9900cc" stroke-width="0.95"/>
<polygon points="511.53,146.79 509.71,147.84 507.89,146.79 507.89,144.69 509.71,143.64 511.53,144.69" fill="none" stroke="#9900cc" stroke-width="0.95"/>
<polygon points="512.67,145.99 510.86,147.04 509.04,145.99 509.04,143.89 510.86,142.84 512.67,143.89" fill="none" stroke="#9900cc" stroke-width="0.95"/>
<polygon points="513.89,145.21 512.08,146.26 510.26,145.21 510.26,143.11 512.08,142.06 513.89,143.11" fill="none" stroke="#9900cc" stroke-width="0.95"/>
<polygon points="515.18,144.47 513.36,145.52 511.55,144.47 511.55,142.37 513.36,141.32 515.18,142.37" fill="none" stroke="#9900cc" stroke-width="0.95"/>
<polygon points="516.54,143.77 514.72,144.82 512.9,143.77 512.9,141.67 514.72,140.62 516.54,141.67" fill="none" stroke="#9900cc" stroke-width="0.95"/>
<polygon points="517.96,143.14 516.14,144.19 514.32,143.14 514.32,141.04 516.14,139.99 517.96,141.04" fill="none" stroke="#9900cc" stroke-width="0.95"/>
<polygon points="519.44,142.58 517.62,143.63 515.8,142.58 515.8,140.48 517.62,139.43 519.44,140.48" fill="none" stroke="#9900cc" stroke-width="0.95"/>
<polygon points="520.97,142.1 519.15,143.15 517.33,142.1 517.33,140 519.15,138.95 520.97,140" fill="none" stroke="#9900cc" stroke-width="0.95"/>
<polygon points="522.54,141.72 520.72,142.77 518.9,141.72 518.9,139.62 520.72,138.57 522.54,139.62" fill="none" stroke="#9900cc" stroke-width="0.95"/>
<polygon points="524.14,141.44 522.32,142.49 520.5,141.44 520.5,139.34 522.32,138.29 524.14,139.34" fill="none" stroke="#9900cc" stroke-width="0.95"/>
<polygon points="525.77,141.27 523.95,142.32 522.13,141.27 522.13,139.17 523.95,138.12 525.77,139.17" fill="none" stroke="#9900cc" stroke-width="0.95"/>
<polygon points="527.4,141.21 525.58,142.26 523.77,141.21 523.77,139.11 525.58,138.06 527.4,139.11" fill="none" stroke="#9900cc" stroke-width="0.95"/>
<polygon points="529.04,141.27 527.22,142.32 525.4,141.27 525.4,139.17 527.22,138.12 529.04,139.17" fill="none" stroke="#9900cc" stroke-width="0.95"/>
<polygon points="530.67,141.44 528.85,142.49 527.03,141.44 527.03,139.34 528.85,138.29 530.67,139.34" fill="none" stroke="#9900cc" stroke-width="0.95"/>
<polygon points="532.27,141.72 530.45,142.77 528.63,141.72 528.63,139.62 530.45,138.57 532.27,139.62" fill="none" stroke="#9900cc" stroke-width="0.95"/>
<polygon points="533.84,142.1 532.02,143.15 530.2,142.1 530.2,140 532.02,138.95 533.84,140" fill="none" stroke="#9900cc" stroke-width="0.95"/>
<polygon points="535.37,142.58 533.55,143.63 531.73,142.58 531.73,140.48 533.55,139.43 535.37,140.48" fill="none" stroke="#9900cc" stroke-width="0.95"/>
<rect x="496.6" y="4.9" width="187" height="156.25" fill="none" stroke="#111" stroke-width="1.6"/>
<line x1="496.6" y1="161.15" x2="496.6" y2="158.35" stroke="#111" stroke-width="1.1"/>
<line x1="530.5" y1="161.15" x2="530.5" y2="158.35" stroke="#111" stroke-width="1.1"/>
<line x1="564.4" y1="161.15" x2="564.4" y2="158.35" stroke="#111" stroke-width="1.1"/>
<line x1="598.3" y1="161.15" x2="598.3" y2="158.35" stroke="#111" stroke-width="1.1"/>
<line x1="632.2" y1="161.15" x2="632.2" y2="158.35" stroke="#111" stroke-width="1.1"/>
<line x1="666.1" y1="161.15" x2="666.1" y2="158.35" stroke="#111" stroke-width="1.1"/>
<line x1="513.55" y1="161.15" x2="513.55" y2="159.45" stroke="#111" stroke-width="1.1"/>
<line x1="547.45" y1="161.15" x2="547.45" y2="159.45" stroke="#111" stroke-width="1.1"/>
<line x1="581.35" y1="161.15" x2="581.35" y2="159.45" stroke="#111" stroke-width="1.1"/>
<line x1="615.25" y1="161.15" x2="615.25" y2="159.45" stroke="#111" stroke-width="1.1"/>
<line x1="649.15" y1="161.15" x2="649.15" y2="159.45" stroke="#111" stroke-width="1.1"/>
<line x1="683.05" y1="161.15" x2="683.05" y2="159.45" stroke="#111" stroke-width="1.1"/>
<line x1="496.6" y1="160.8" x2="499.4" y2="160.8" stroke="#111" stroke-width="1.1"/>
<line x1="496.6" y1="129.6" x2="499.4" y2="129.6" stroke="#111" stroke-width="1.1"/>
<line x1="496.6" y1="98.4" x2="499.4" y2="98.4" stroke="#111" stroke-width="1.1"/>
<line x1="496.6" y1="67.2" x2="499.4" y2="67.2" stroke="#111" stroke-width="1.1"/>
<line x1="496.6" y1="36" x2="499.4" y2="36" stroke="#111" stroke-width="1.1"/>
<line x1="496.6" y1="4.8" x2="499.4" y2="4.8" stroke="#111" stroke-width="1.1"/>
<line x1="496.6" y1="145.2" x2="498.3" y2="145.2" stroke="#111" stroke-width="1.1"/>
<line x1="496.6" y1="114" x2="498.3" y2="114" stroke="#111" stroke-width="1.1"/>
<line x1="496.6" y1="82.8" x2="498.3" y2="82.8" stroke="#111" stroke-width="1.1"/>
<line x1="496.6" y1="51.6" x2="498.3" y2="51.6" stroke="#111" stroke-width="1.1"/>
<line x1="496.6" y1="20.4" x2="498.3" y2="20.4" stroke="#111" stroke-width="1.1"/>
<text transform="translate(496.6,170.4) scale(1,1.09)" font-size="8.8" text-anchor="middle">0</text>
<text transform="translate(530.5,170.4) scale(1,1.09)" font-size="8.8" text-anchor="middle">20</text>
<text transform="translate(564.4,170.4) scale(1,1.09)" font-size="8.8" text-anchor="middle">40</text>
<text transform="translate(598.3,170.4) scale(1,1.09)" font-size="8.8" text-anchor="middle">60</text>
<text transform="translate(632.2,170.4) scale(1,1.09)" font-size="8.8" text-anchor="middle">80</text>
<text transform="translate(666.1,170.4) scale(1,1.09)" font-size="8.8" text-anchor="middle">100</text>
<text transform="translate(493.6,163.9) scale(1,1.09)" font-size="8.8" text-anchor="end">0</text>
<text transform="translate(493.6,132.7) scale(1,1.09)" font-size="8.8" text-anchor="end">10</text>
<text transform="translate(493.6,101.5) scale(1,1.09)" font-size="8.8" text-anchor="end">20</text>
<text transform="translate(493.6,70.3) scale(1,1.09)" font-size="8.8" text-anchor="end">30</text>
<text transform="translate(493.6,39.1) scale(1,1.09)" font-size="8.8" text-anchor="end">40</text>
<text transform="translate(493.6,7.9) scale(1,1.09)" font-size="8.8" text-anchor="end">50</text>
<text transform="translate(596.8,185.8)" font-size="8.8" text-anchor="middle">Z' (ohm)</text>
<text transform="translate(479.3,82.9) rotate(-90)" font-size="8.9" text-anchor="middle">-Z'' (ohm)</text>
<text transform="translate(504,20.1) scale(0.91,0.99)" font-size="15" text-anchor="start" class="L">c</text>
<rect x="597.4" y="102.4" width="4.4" height="4.4" fill="none" stroke="#000" stroke-width="1.1"/>
<text transform="translate(608,107)" font-size="7.7" text-anchor="start">NF</text>
<circle cx="599.6" cy="113.7" r="2.2" fill="none" stroke="#ff0000" stroke-width="1.1"/>
<text transform="translate(608,116.1)" font-size="7.7" text-anchor="start">pNF</text>
<path d="M599.6,120.29L601.8,124.36L597.4,124.36Z" fill="none" stroke="#008000" stroke-width="1.1"/>
<text transform="translate(608,125)" font-size="7.7" text-anchor="start">Ni-MOF/NF</text>
<path d="M599.6,129.88L601.91,132.3L599.6,134.72L597.29,132.3Z" fill="none" stroke="#ff8000" stroke-width="1.1"/>
<text transform="translate(608,134.7)" font-size="7.7" text-anchor="start">NiC/NF</text>
<polygon points="601.51,143.5 599.6,144.6 597.69,143.5 597.69,141.3 599.6,140.2 601.51,141.3" fill="none" stroke="#9900cc" stroke-width="1.1"/>
<text transform="translate(608,144.8)" font-size="7.7" text-anchor="start">Ni<tspan dy="3" font-size="5.4">2</tspan><tspan dy="-3">P@NiC/NF</tspan></text>
<path d="M599.6,155.71L601.8,151.64L597.4,151.64Z" fill="none" stroke="#0000ff" stroke-width="1.1"/>
<text transform="translate(608,155.8)" font-size="7.7" text-anchor="start">Ni<tspan dy="3" font-size="5.4">2</tspan><tspan dy="-3">P@Ni-MOF/NF</tspan></text>
<path d="M32.9,289.6 C33.25,289.27 34.15,288.33 35,287.6 C35.85,286.87 36.67,286.05 38,285.2 C39.33,284.35 41.33,283.23 43,282.5 C44.67,281.77 46.33,281.25 48,280.8 C49.67,280.35 51.33,280.08 53,279.8 C54.67,279.52 55.5,279.42 58,279.1 C60.5,278.78 64.67,278.22 68,277.9 C71.33,277.58 74.33,277.42 78,277.2 C81.67,276.98 84.67,276.83 90,276.6 C95.33,276.37 103.33,276.07 110,275.8 C116.67,275.53 123.33,275.33 130,275 C136.67,274.67 143.33,274.18 150,273.8 C156.67,273.42 163.33,273.02 170,272.7 C176.67,272.38 184.17,272.07 190,271.9 C195.83,271.73 200.08,271.7 205,271.7 C209.92,271.7 217.08,271.87 219.5,271.9" fill="none" stroke="#000" stroke-width="2.7"/>
<rect x="32.7" y="198.1" width="186.8" height="155.95" fill="none" stroke="#111" stroke-width="1.6"/>
<line x1="32.7" y1="354.05" x2="32.7" y2="351.35" stroke="#111" stroke-width="1.1"/>
<line x1="70.06" y1="354.05" x2="70.06" y2="351.35" stroke="#111" stroke-width="1.1"/>
<line x1="107.42" y1="354.05" x2="107.42" y2="351.35" stroke="#111" stroke-width="1.1"/>
<line x1="144.78" y1="354.05" x2="144.78" y2="351.35" stroke="#111" stroke-width="1.1"/>
<line x1="182.14" y1="354.05" x2="182.14" y2="351.35" stroke="#111" stroke-width="1.1"/>
<line x1="219.5" y1="354.05" x2="219.5" y2="351.35" stroke="#111" stroke-width="1.1"/>
<line x1="51.38" y1="354.05" x2="51.38" y2="352.65" stroke="#111" stroke-width="1.1"/>
<line x1="88.74" y1="354.05" x2="88.74" y2="352.65" stroke="#111" stroke-width="1.1"/>
<line x1="126.1" y1="354.05" x2="126.1" y2="352.65" stroke="#111" stroke-width="1.1"/>
<line x1="163.46" y1="354.05" x2="163.46" y2="352.65" stroke="#111" stroke-width="1.1"/>
<line x1="200.82" y1="354.05" x2="200.82" y2="352.65" stroke="#111" stroke-width="1.1"/>
<line x1="32.7" y1="353.7" x2="35.4" y2="353.7" stroke="#111" stroke-width="1.1"/>
<line x1="32.7" y1="338.14" x2="35.4" y2="338.14" stroke="#111" stroke-width="1.1"/>
<line x1="32.7" y1="322.58" x2="35.4" y2="322.58" stroke="#111" stroke-width="1.1"/>
<line x1="32.7" y1="307.02" x2="35.4" y2="307.02" stroke="#111" stroke-width="1.1"/>
<line x1="32.7" y1="291.46" x2="35.4" y2="291.46" stroke="#111" stroke-width="1.1"/>
<line x1="32.7" y1="275.9" x2="35.4" y2="275.9" stroke="#111" stroke-width="1.1"/>
<line x1="32.7" y1="260.34" x2="35.4" y2="260.34" stroke="#111" stroke-width="1.1"/>
<line x1="32.7" y1="244.78" x2="35.4" y2="244.78" stroke="#111" stroke-width="1.1"/>
<line x1="32.7" y1="229.22" x2="35.4" y2="229.22" stroke="#111" stroke-width="1.1"/>
<line x1="32.7" y1="213.66" x2="35.4" y2="213.66" stroke="#111" stroke-width="1.1"/>
<line x1="32.7" y1="198.1" x2="35.4" y2="198.1" stroke="#111" stroke-width="1.1"/>
<line x1="32.7" y1="345.92" x2="34.1" y2="345.92" stroke="#111" stroke-width="1.1"/>
<line x1="32.7" y1="330.36" x2="34.1" y2="330.36" stroke="#111" stroke-width="1.1"/>
<line x1="32.7" y1="314.8" x2="34.1" y2="314.8" stroke="#111" stroke-width="1.1"/>
<line x1="32.7" y1="299.24" x2="34.1" y2="299.24" stroke="#111" stroke-width="1.1"/>
<line x1="32.7" y1="283.68" x2="34.1" y2="283.68" stroke="#111" stroke-width="1.1"/>
<line x1="32.7" y1="268.12" x2="34.1" y2="268.12" stroke="#111" stroke-width="1.1"/>
<line x1="32.7" y1="252.56" x2="34.1" y2="252.56" stroke="#111" stroke-width="1.1"/>
<line x1="32.7" y1="237" x2="34.1" y2="237" stroke="#111" stroke-width="1.1"/>
<line x1="32.7" y1="221.44" x2="34.1" y2="221.44" stroke="#111" stroke-width="1.1"/>
<line x1="32.7" y1="205.88" x2="34.1" y2="205.88" stroke="#111" stroke-width="1.1"/>
<text transform="translate(32.7,363.8)" font-size="8.3" text-anchor="middle">0</text>
<text transform="translate(70.06,363.8)" font-size="8.3" text-anchor="middle">2</text>
<text transform="translate(107.42,363.8)" font-size="8.3" text-anchor="middle">4</text>
<text transform="translate(144.78,363.8)" font-size="8.3" text-anchor="middle">6</text>
<text transform="translate(182.14,363.8)" font-size="8.3" text-anchor="middle">8</text>
<text transform="translate(219.5,363.8)" font-size="8.3" text-anchor="middle">10</text>
<text transform="translate(29.2,355.9) scale(1,1.04)" font-size="8.3" text-anchor="end">-45</text>
<text transform="translate(29.2,340.34) scale(1,1.04)" font-size="8.3" text-anchor="end">-40</text>
<text transform="translate(29.2,324.78) scale(1,1.04)" font-size="8.3" text-anchor="end">-35</text>
<text transform="translate(29.2,309.22) scale(1,1.04)" font-size="8.3" text-anchor="end">-30</text>
<text transform="translate(29.2,293.66) scale(1,1.04)" font-size="8.3" text-anchor="end">-25</text>
<text transform="translate(29.2,278.1) scale(1,1.04)" font-size="8.3" text-anchor="end">-20</text>
<text transform="translate(29.2,262.54) scale(1,1.04)" font-size="8.3" text-anchor="end">-15</text>
<text transform="translate(29.2,246.98) scale(1,1.04)" font-size="8.3" text-anchor="end">-10</text>
<text transform="translate(29.2,231.42) scale(1,1.04)" font-size="8.3" text-anchor="end">-5</text>
<text transform="translate(29.2,215.86) scale(1,1.04)" font-size="8.3" text-anchor="end">0</text>
<text transform="translate(29.2,200.3) scale(1,1.04)" font-size="8.3" text-anchor="end">5</text>
<text transform="translate(126.7,375.9)" font-size="8.8" text-anchor="middle">Time (h)</text>
<text transform="translate(10.2,276) rotate(-90)" font-size="8.9" text-anchor="middle"><tspan font-style="italic">j</tspan> (mA cm<tspan dy="-3.2" font-size="6.3">-2</tspan><tspan dy="3.2">)</tspan></text>
<text transform="translate(39.9,213.6) scale(0.89,1)" font-size="15" text-anchor="start" class="L">d</text>
<g clip-path="url(#clipe)" fill="none">
<path d="M338.38,359.91 C338.53,359.35 338.99,357.69 339.3,356.57 C339.6,355.46 339.91,354.35 340.21,353.24 C340.51,352.12 340.81,351.01 341.11,349.9 C341.41,348.78 341.71,347.67 342.01,346.56 C342.31,345.44 342.6,344.33 342.9,343.21 C343.2,342.1 343.5,340.98 343.79,339.87 C344.09,338.75 344.39,337.64 344.69,336.53 C344.99,335.41 345.29,334.3 345.59,333.18 C345.89,332.07 346.19,330.95 346.5,329.84 C346.8,328.72 347.11,327.61 347.41,326.5 C347.72,325.38 348.03,324.27 348.34,323.16 C348.65,322.04 348.96,320.93 349.28,319.82 C349.6,318.71 349.91,317.59 350.24,316.48 C350.56,315.37 350.88,314.26 351.21,313.15 C351.54,312.04 351.87,310.93 352.21,309.82 C352.54,308.72 352.88,307.61 353.23,306.5 C353.57,305.39 353.92,304.29 354.27,303.18 C354.63,302.08 354.98,300.97 355.35,299.87 C355.71,298.77 356.08,297.66 356.45,296.56 C356.82,295.46 357.2,294.36 357.59,293.26 C357.97,292.16 358.36,291.06 358.76,289.97 C359.16,288.87 359.56,287.77 359.97,286.68 C360.38,285.59 360.79,284.49 361.22,283.4 C361.64,282.31 362.07,281.23 362.51,280.14 C362.95,279.06 363.4,277.97 363.85,276.9 C364.31,275.82 364.77,274.74 365.24,273.67 C365.71,272.6 366.19,271.54 366.68,270.48 C367.18,269.42 367.67,268.36 368.18,267.31 C368.69,266.26 369.21,265.22 369.74,264.18 C370.27,263.14 370.82,262.11 371.37,261.09 C371.92,260.07 372.48,259.05 373.06,258.04 C373.63,257.04 374.22,256.03 374.81,255.04 C375.41,254.05 376.02,253.07 376.65,252.1 C377.27,251.12 377.9,250.16 378.55,249.2 C379.2,248.25 379.86,247.31 380.54,246.37 C381.22,245.44 381.91,244.52 382.61,243.61 C383.31,242.7 384.03,241.8 384.77,240.91 C385.5,240.03 386.25,239.15 387.01,238.29 C387.77,237.43 388.55,236.58 389.34,235.75 C390.13,234.91 390.94,234.09 391.76,233.29 C392.58,232.48 393.42,231.69 394.27,230.92 C395.11,230.14 395.98,229.38 396.85,228.64 C397.73,227.9 398.62,227.17 399.52,226.46 C400.42,225.76 401.34,225.06 402.27,224.39 C403.2,223.72 404.14,223.07 405.09,222.43 C406.05,221.8 407.01,221.18 407.99,220.59 C408.97,219.99 409.96,219.42 410.97,218.87 C411.97,218.31 412.98,217.78 414.01,217.27 C415.04,216.76 416.08,216.27 417.13,215.81 C418.17,215.34 419.24,214.9 420.31,214.48 C421.38,214.06 422.46,213.66 423.56,213.29 C424.65,212.92 425.75,212.58 426.87,212.26 C427.98,211.94 429.11,211.64 430.24,211.38 C431.38,211.11 432.52,210.87 433.67,210.65 C434.83,210.44 435.99,210.25 437.17,210.09 C438.34,209.93 439.52,209.8 440.71,209.7 C441.91,209.6 443.11,209.53 444.32,209.49 C445.53,209.44 446.75,209.43 447.97,209.45 C449.2,209.47 451.06,209.57 451.68,209.6" stroke="#000" stroke-width="1.45"/>
<path d="M337.15,360.09 C337.26,359.51 337.56,357.76 337.78,356.6 C337.99,355.44 338.21,354.29 338.44,353.14 C338.67,351.99 338.91,350.85 339.15,349.71 C339.39,348.57 339.64,347.43 339.89,346.3 C340.14,345.16 340.4,344.04 340.67,342.91 C340.94,341.78 341.21,340.66 341.48,339.54 C341.76,338.42 342.05,337.3 342.33,336.19 C342.62,335.07 342.92,333.96 343.22,332.85 C343.51,331.74 343.82,330.63 344.13,329.53 C344.44,328.42 344.75,327.32 345.07,326.22 C345.39,325.11 345.72,324.01 346.04,322.92 C346.37,321.82 346.71,320.72 347.04,319.62 C347.38,318.52 347.72,317.43 348.07,316.33 C348.41,315.24 348.77,314.14 349.12,313.05 C349.47,311.95 349.83,310.86 350.19,309.76 C350.56,308.67 350.92,307.58 351.29,306.48 C351.66,305.39 352.03,304.29 352.41,303.19 C352.78,302.1 353.16,301 353.54,299.9 C353.93,298.81 354.31,297.71 354.7,296.61 C355.09,295.51 355.48,294.41 355.88,293.31 C356.28,292.22 356.68,291.12 357.09,290.02 C357.5,288.93 357.91,287.83 358.33,286.74 C358.75,285.65 359.18,284.55 359.61,283.47 C360.04,282.38 360.48,281.29 360.93,280.21 C361.38,279.13 361.83,278.06 362.29,276.98 C362.76,275.91 363.23,274.84 363.71,273.78 C364.19,272.72 364.68,271.66 365.18,270.61 C365.68,269.56 366.19,268.51 366.71,267.47 C367.23,266.44 367.76,265.4 368.3,264.38 C368.85,263.36 369.4,262.34 369.97,261.33 C370.53,260.33 371.11,259.33 371.7,258.34 C372.29,257.35 372.9,256.36 373.52,255.39 C374.13,254.42 374.76,253.46 375.41,252.51 C376.06,251.56 376.72,250.62 377.39,249.69 C378.07,248.76 378.76,247.85 379.46,246.95 C380.17,246.04 380.9,245.16 381.64,244.29 C382.38,243.42 383.14,242.56 383.92,241.73 C384.7,240.89 385.5,240.08 386.32,239.28 C387.14,238.49 387.99,237.72 388.85,236.97 C389.72,236.23 390.61,235.51 391.52,234.81 C392.43,234.11 393.36,233.44 394.31,232.79 C395.26,232.14 396.23,231.51 397.21,230.9 C398.19,230.28 399.19,229.69 400.2,229.11 C401.21,228.52 402.23,227.96 403.25,227.4 C404.28,226.84 405.32,226.3 406.36,225.76 C407.4,225.22 408.44,224.69 409.49,224.17 C410.53,223.64 411.58,223.12 412.63,222.61 C413.67,222.09 414.72,221.58 415.77,221.07 C416.82,220.57 417.87,220.06 418.92,219.57 C419.98,219.08 421.03,218.59 422.09,218.1 C423.14,217.62 424.2,217.15 425.26,216.68 C426.32,216.21 427.38,215.75 428.44,215.3 C429.51,214.84 430.57,214.4 431.64,213.96 C432.71,213.52 433.79,213.09 434.86,212.67 C435.94,212.25 437.01,211.84 438.1,211.44 C439.18,211.04 440.26,210.65 441.35,210.27 C442.44,209.89 443.53,209.52 444.63,209.16 C445.73,208.8 446.83,208.45 447.93,208.11 C449.03,207.77 450.7,207.3 451.26,207.13" stroke="#ff0000" stroke-width="1.45" stroke-dasharray="3.4,2.6"/>
</g>
<rect x="265.1" y="198.1" width="186.2" height="155.95" fill="none" stroke="#111" stroke-width="1.6"/>
<line x1="265.09" y1="354.05" x2="265.09" y2="351.35" stroke="#111" stroke-width="1.1"/>
<line x1="327.16" y1="354.05" x2="327.16" y2="351.35" stroke="#111" stroke-width="1.1"/>
<line x1="389.23" y1="354.05" x2="389.23" y2="351.35" stroke="#111" stroke-width="1.1"/>
<line x1="451.3" y1="354.05" x2="451.3" y2="351.35" stroke="#111" stroke-width="1.1"/>
<line x1="296.12" y1="354.05" x2="296.12" y2="352.65" stroke="#111" stroke-width="1.1"/>
<line x1="358.19" y1="354.05" x2="358.19" y2="352.65" stroke="#111" stroke-width="1.1"/>
<line x1="420.26" y1="354.05" x2="420.26" y2="352.65" stroke="#111" stroke-width="1.1"/>
<line x1="265.1" y1="343.85" x2="267.5" y2="343.85" stroke="#111" stroke-width="1.1"/>
<line x1="265.1" y1="324.4" x2="267.5" y2="324.4" stroke="#111" stroke-width="1.1"/>
<line x1="265.1" y1="304.95" x2="267.5" y2="304.95" stroke="#111" stroke-width="1.1"/>
<line x1="265.1" y1="285.5" x2="267.5" y2="285.5" stroke="#111" stroke-width="1.1"/>
<line x1="265.1" y1="266.05" x2="267.5" y2="266.05" stroke="#111" stroke-width="1.1"/>
<line x1="265.1" y1="246.6" x2="267.5" y2="246.6" stroke="#111" stroke-width="1.1"/>
<line x1="265.1" y1="227.15" x2="267.5" y2="227.15" stroke="#111" stroke-width="1.1"/>
<line x1="265.1" y1="207.7" x2="267.5" y2="207.7" stroke="#111" stroke-width="1.1"/>
<line x1="265.1" y1="353.57" x2="266.5" y2="353.57" stroke="#111" stroke-width="1.1"/>
<line x1="265.1" y1="334.12" x2="266.5" y2="334.12" stroke="#111" stroke-width="1.1"/>
<line x1="265.1" y1="314.68" x2="266.5" y2="314.68" stroke="#111" stroke-width="1.1"/>
<line x1="265.1" y1="295.23" x2="266.5" y2="295.23" stroke="#111" stroke-width="1.1"/>
<line x1="265.1" y1="275.77" x2="266.5" y2="275.77" stroke="#111" stroke-width="1.1"/>
<line x1="265.1" y1="256.32" x2="266.5" y2="256.32" stroke="#111" stroke-width="1.1"/>
<line x1="265.1" y1="236.88" x2="266.5" y2="236.88" stroke="#111" stroke-width="1.1"/>
<line x1="265.1" y1="217.42" x2="266.5" y2="217.42" stroke="#111" stroke-width="1.1"/>
<line x1="265.1" y1="197.97" x2="266.5" y2="197.97" stroke="#111" stroke-width="1.1"/>
<text transform="translate(265.09,363.8)" font-size="8.3" text-anchor="middle">-0.3</text>
<text transform="translate(327.16,363.8)" font-size="8.3" text-anchor="middle">-0.2</text>
<text transform="translate(389.23,363.8)" font-size="8.3" text-anchor="middle">-0.1</text>
<text transform="translate(451.3,363.8)" font-size="8.3" text-anchor="middle">0.0</text>
<text transform="translate(261.4,346.25) scale(1,1.06)" font-size="8.3" text-anchor="end">-140</text>
<text transform="translate(261.4,326.8) scale(1,1.06)" font-size="8.3" text-anchor="end">-120</text>
<text transform="translate(261.4,307.35) scale(1,1.06)" font-size="8.3" text-anchor="end">-100</text>
<text transform="translate(261.4,287.9) scale(1,1.06)" font-size="8.3" text-anchor="end">-80</text>
<text transform="translate(261.4,268.45) scale(1,1.06)" font-size="8.3" text-anchor="end">-60</text>
<text transform="translate(261.4,249) scale(1,1.06)" font-size="8.3" text-anchor="end">-40</text>
<text transform="translate(261.4,229.55) scale(1,1.06)" font-size="8.3" text-anchor="end">-20</text>
<text transform="translate(261.4,210.1) scale(1,1.06)" font-size="8.3" text-anchor="end">0</text>
<text transform="translate(358.2,377)" font-size="8.75" text-anchor="middle">Potential (V vs RHE)</text>
<text transform="translate(239.1,276) rotate(-90)" font-size="8.9" text-anchor="middle"><tspan font-style="italic">j</tspan> (mA cm<tspan dy="-3.2" font-size="6.3">-2</tspan><tspan dy="3.2">)</tspan></text>
<text transform="translate(275.3,214.9) scale(0.94,1.12)" font-size="15" text-anchor="start" class="L">e</text>
<line x1="378.4" y1="329.9" x2="398.8" y2="329.9" stroke="#000" stroke-width="1.45"/>
<line x1="378.4" y1="340.5" x2="398.8" y2="340.5" stroke="#ff0000" stroke-width="1.45" stroke-dasharray="3.4,2.6"/>
<text transform="translate(401.2,333)" font-size="8.6" text-anchor="start">Before Test</text>
<text transform="translate(401,343.6)" font-size="8.6" text-anchor="start">After Test</text>
</svg>
</body></html>
